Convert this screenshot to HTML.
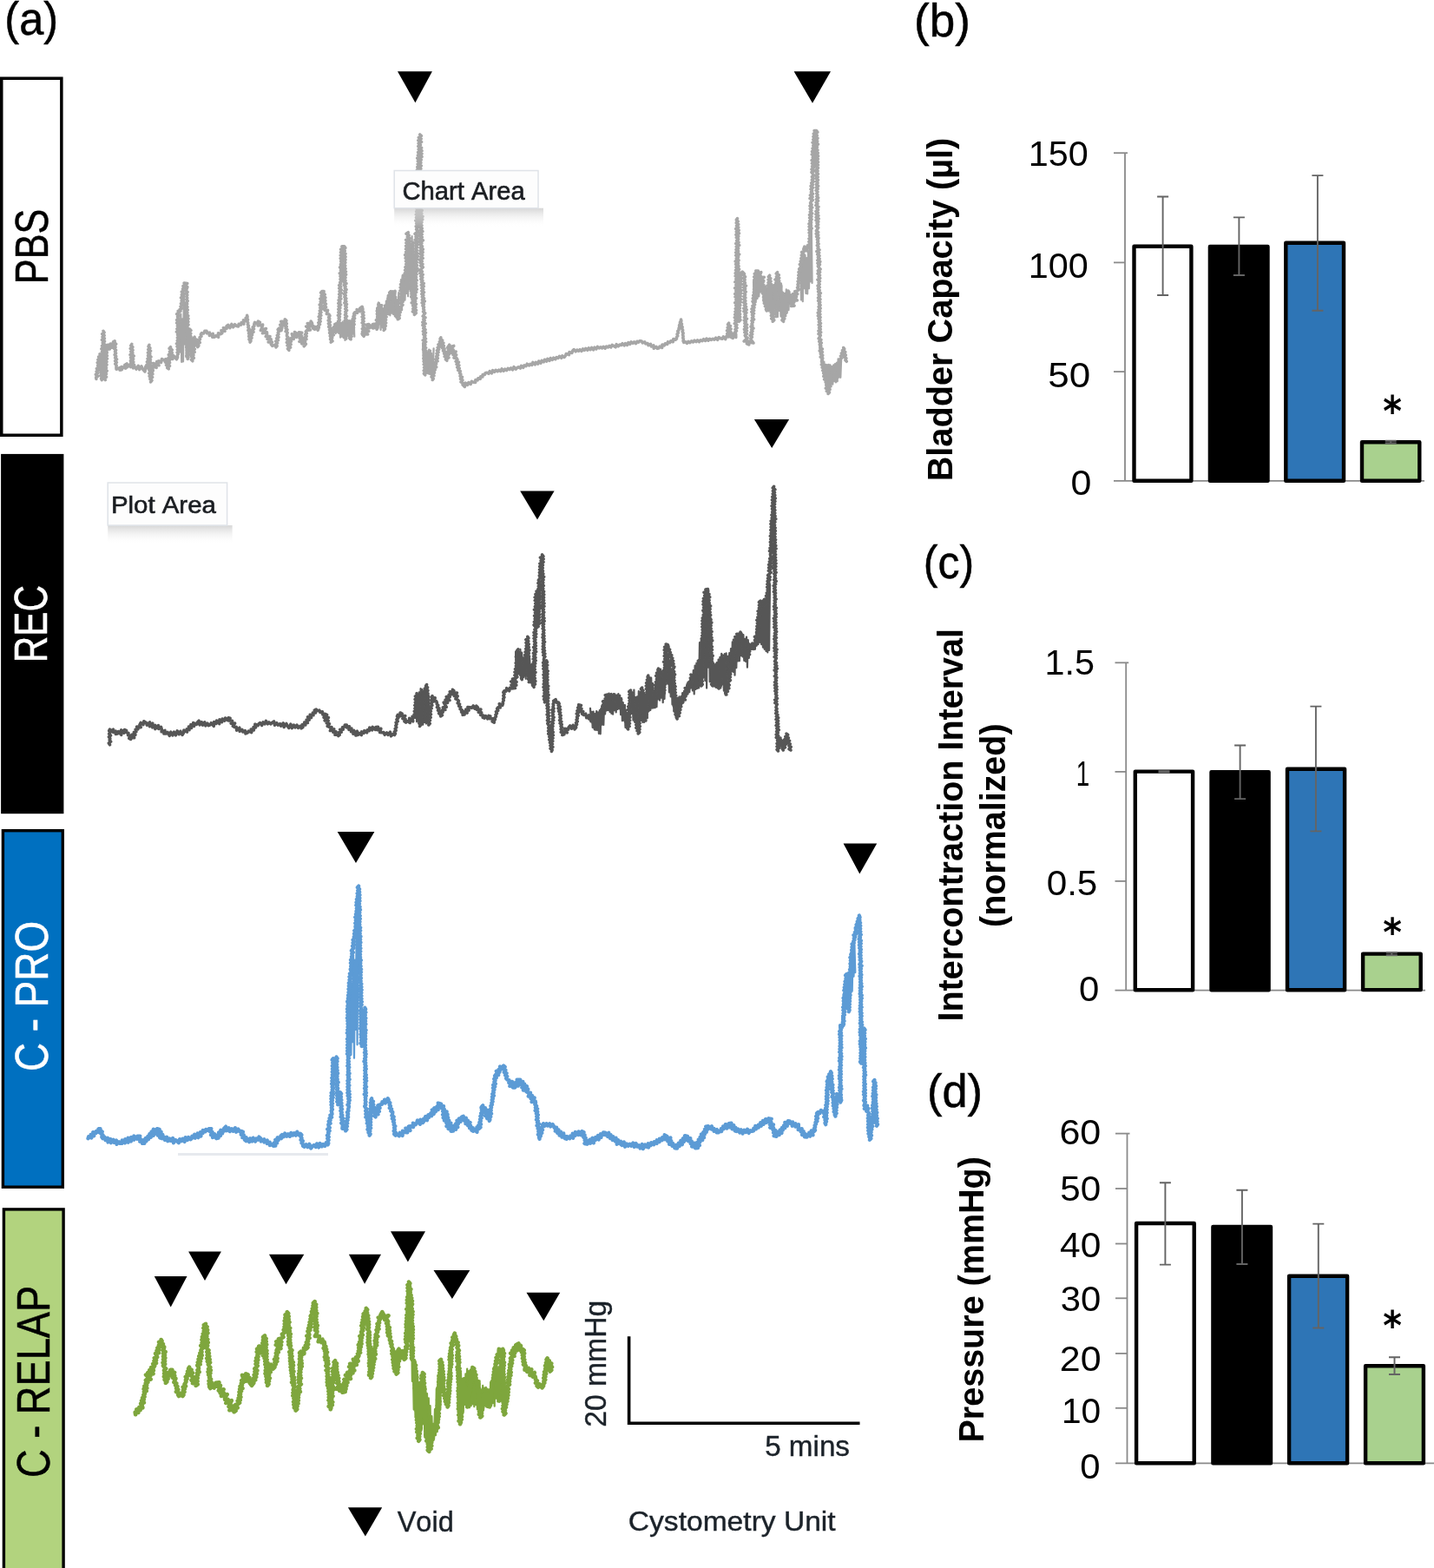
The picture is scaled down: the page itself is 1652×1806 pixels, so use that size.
<!DOCTYPE html><html><head><meta charset="utf-8"><title>Figure</title><style>html,body{margin:0;padding:0;background:#fff}svg{display:block}text{font-family:"Liberation Sans", Arial, sans-serif;font-kerning:none}</style></head><body>
<svg width="1652" height="1806" viewBox="0 0 1652 1806">
<rect x="0" y="0" width="1652" height="1806" fill="#fff"/>
<defs><linearGradient id="shd" x1="0" y1="0" x2="0" y2="1"><stop offset="0" stop-color="#c8c8c8" stop-opacity="0.75"/><stop offset="1" stop-color="#ffffff" stop-opacity="0"/></linearGradient><filter id="bl" x="-5%" y="-5%" width="110%" height="110%"><feGaussianBlur stdDeviation="0.6"/></filter></defs>
<text transform="translate(5.37,40.00) scale(0.9412,1)" font-size="53.6" font-weight="normal" fill="#000" stroke="#000" stroke-width="0.5">(a)</text>
<text transform="translate(1053.01,42.40) scale(0.9888,1)" font-size="53.6" font-weight="normal" fill="#000" stroke="#000" stroke-width="0.5">(b)</text>
<text transform="translate(1063.80,666.30) scale(0.9328,1)" font-size="53.6" font-weight="normal" fill="#000" stroke="#000" stroke-width="0.5">(c)</text>
<text transform="translate(1067.95,1274.50) scale(0.9769,1)" font-size="53.6" font-weight="normal" fill="#000" stroke="#000" stroke-width="0.5">(d)</text>
<rect x="1.75" y="90.25" width="69.1" height="411" fill="#fff" stroke="#000" stroke-width="3.5"/>
<rect x="1.1" y="522.9" width="72.3" height="414.3" fill="#000"/>
<rect x="3.4" y="956.7" width="68.9" height="410.5" fill="#0070C0" stroke="#000" stroke-width="3.4"/>
<rect x="4.4" y="1392.9" width="68.7" height="420" fill="#B2D37E" stroke="#000" stroke-width="3.4"/>
<text transform="translate(55.40,327.15) rotate(-90) scale(0.8159,1)" font-size="53.0" font-weight="normal" fill="#000" stroke="#000" stroke-width="0.5">PBS</text>
<text transform="translate(54.00,763.27) rotate(-90) scale(0.7904,1)" font-size="53.5" font-weight="normal" fill="#fff" stroke="#fff" stroke-width="0.5">REC</text>
<text transform="translate(54.80,1234.03) rotate(-90) scale(0.8565,1)" font-size="53.5" font-weight="normal" fill="#fff" stroke="#fff" stroke-width="0.5">C - PRO</text>
<text transform="translate(56.50,1702.10) rotate(-90) scale(0.8462,1)" font-size="53.5" font-weight="normal" fill="#000" stroke="#000" stroke-width="0.5">C - RELAP</text>
<polyline points="944.0,393.5 944.9,408.1 945.8,403.6 946.7,418.0 947.6,410.1 948.5,429.8 949.4,416.5 950.3,437.4 951.2,419.9 952.1,439.4 953.0,420.2 953.9,441.6 954.8,419.8 955.7,449.5 956.6,420.3 957.5,442.9 958.4,422.2 959.3,442.7 960.2,420.3 961.1,439.2 962.0,419.1 962.9,440.4 963.8,417.9 964.7,439.3 965.6,413.4 966.5,434.6 967.4,414.0 968.3,434.8 969.2,412.3" fill="none" stroke="#a6a6a6" stroke-width="2.2" stroke-linejoin="round" stroke-linecap="round" filter="url(#bl)"/>
<polyline points="487.0,395.6 487.9,415.4 488.8,398.1 489.7,424.9 490.6,403.7 491.5,429.8 492.4,405.6 493.3,430.4 494.2,402.6 495.1,431.0 496.0,408.8 496.9,430.3 497.8,409.6 498.7,426.9 499.6,401.4" fill="none" stroke="#a6a6a6" stroke-width="2.2" stroke-linejoin="round" stroke-linecap="round" filter="url(#bl)"/>
<polyline points="204.7,371.8 205.6,408.0 206.5,368.5 207.4,405.6 208.3,361.5 209.2,416.9 210.1,367.4 211.0,416.4 211.9,338.3 212.8,396.6 213.7,348.5 214.6,411.6" fill="none" stroke="#a6a6a6" stroke-width="2.2" stroke-linejoin="round" stroke-linecap="round" filter="url(#bl)"/>
<polyline points="117.3,396.0 118.2,408.7 119.1,396.5 120.0,412.4 120.9,396.4 121.8,410.4 122.7,400.4" fill="none" stroke="#a6a6a6" stroke-width="2.2" stroke-linejoin="round" stroke-linecap="round" filter="url(#bl)"/>
<polyline points="385.8,374.2 386.7,384.2 387.6,373.8 388.5,382.6 389.4,371.6 390.3,384.0 391.2,371.6 392.1,388.6 393.0,371.9 393.9,387.6 394.8,370.7 395.7,389.1 396.6,371.5 397.5,392.0 398.4,371.5 399.3,390.6 400.2,369.7 401.1,386.9 402.0,370.8 402.9,390.8 403.8,369.3 404.7,386.9 405.6,367.0 406.5,384.1 407.4,361.4 408.3,387.7" fill="none" stroke="#a6a6a6" stroke-width="2.2" stroke-linejoin="round" stroke-linecap="round" filter="url(#bl)"/>
<polyline points="434.1,354.9 435.0,373.3 435.9,348.6 436.8,373.0 437.7,356.9 438.6,380.0 439.5,359.6 440.4,375.5 441.3,357.4 442.2,370.5 443.1,351.6 444.0,367.2 444.9,346.7 445.8,360.0 446.7,341.3 447.6,362.3 448.5,338.8 449.4,363.3 450.3,336.9 451.2,360.7 452.1,335.0 453.0,362.0 453.9,342.9 454.8,364.3 455.7,343.5 456.6,366.2 457.5,346.7 458.4,366.6 459.3,337.0" fill="none" stroke="#a6a6a6" stroke-width="2.2" stroke-linejoin="round" stroke-linecap="round" filter="url(#bl)"/>
<polyline points="462.0,322.0 462.9,357.1 463.8,327.8 464.7,348.0 465.6,320.8 466.5,345.7 467.4,316.9 468.3,337.9 469.2,299.5 470.1,341.3 471.0,279.0 471.9,333.1 472.8,284.9 473.7,342.8 474.6,272.1 475.5,349.8 476.4,278.5 477.3,339.4" fill="none" stroke="#a6a6a6" stroke-width="2.2" stroke-linejoin="round" stroke-linecap="round" filter="url(#bl)"/>
<polyline points="922.1,309.7 923.0,345.5 923.9,303.3 924.8,347.2 925.7,293.1 926.6,332.1 927.5,293.9 928.4,338.0 929.3,297.2 930.2,338.5 931.1,289.4 932.0,332.3 932.9,284.8 933.8,324.3 934.7,254.1 935.6,326.0" fill="none" stroke="#a6a6a6" stroke-width="2.2" stroke-linejoin="round" stroke-linecap="round" filter="url(#bl)"/>
<polyline points="868.0,324.0 868.9,352.2 869.8,321.7 870.7,348.1 871.6,318.4 872.5,344.0 873.4,319.0 874.3,341.5 875.2,318.2 876.1,336.5 877.0,317.9 877.9,338.5 878.8,326.5 879.7,347.6 880.6,328.2 881.5,350.0 882.4,330.1 883.3,353.9 884.2,331.9 885.1,358.5 886.0,327.4 886.9,358.4 887.8,332.2 888.7,355.5 889.6,328.4 890.5,362.3 891.4,328.2 892.3,355.1 893.2,326.0 894.1,365.3 895.0,320.6 895.9,365.1 896.8,324.5 897.7,357.9 898.6,328.4 899.5,364.4 900.4,328.4 901.3,366.6 902.2,336.9 903.1,358.2 904.0,337.9 904.9,364.2 905.8,333.3 906.7,360.3 907.6,335.6 908.5,357.2 909.4,336.4" fill="none" stroke="#a6a6a6" stroke-width="2.2" stroke-linejoin="round" stroke-linecap="round" filter="url(#bl)"/>
<polyline points="479.2,804.4 480.1,831.3 481.0,804.4 481.9,830.5 482.8,797.4 483.7,830.8 484.6,793.0 485.5,835.4 486.4,794.1 487.3,834.6 488.2,795.5 489.1,832.0 490.0,791.9 490.9,833.6 491.8,789.8 492.7,828.1 493.6,800.5 494.5,832.7" fill="none" stroke="#575757" stroke-width="2.2" stroke-linejoin="round" stroke-linecap="round" filter="url(#bl)"/>
<polyline points="594.0,750.8 594.9,776.8 595.8,752.1 596.7,776.7 597.6,754.7 598.5,776.5 599.4,747.9 600.3,781.7 601.2,751.6 602.1,780.6 603.0,757.4 603.9,778.1 604.8,754.2 605.7,781.8 606.6,739.9 607.5,777.6 608.4,752.4 609.3,785.2 610.2,758.2 611.1,786.4 612.0,766.0 612.9,789.7" fill="none" stroke="#575757" stroke-width="2.2" stroke-linejoin="round" stroke-linecap="round" filter="url(#bl)"/>
<polyline points="680.0,815.9 680.9,831.5 681.8,819.9 682.7,838.0 683.6,819.5 684.5,838.9 685.4,822.1 686.3,837.1 687.2,819.0 688.1,840.7 689.0,820.4 689.9,844.9 690.8,818.0 691.7,845.3 692.6,815.8 693.5,834.6 694.4,814.8 695.3,834.9 696.2,808.2 697.1,822.5 698.0,806.6 698.9,818.4 699.8,802.4 700.7,817.9 701.6,798.7 702.5,820.0 703.4,799.5 704.3,821.8 705.2,802.2 706.1,822.6 707.0,799.1 707.9,818.2 708.8,803.5 709.7,820.4 710.6,803.3 711.5,817.0 712.4,799.1 713.3,816.3 714.2,800.9 715.1,823.1 716.0,804.0 716.9,830.1 717.8,811.3 718.7,829.8 719.6,812.1 720.5,837.9 721.4,821.8 722.3,835.3 723.2,826.2 724.1,832.1 725.0,811.1 725.9,823.7 726.8,798.7 727.7,821.9 728.6,801.0 729.5,829.6 730.4,794.6 731.3,829.9 732.2,803.0 733.1,830.3 734.0,802.3 734.9,838.6 735.8,796.1 736.7,834.2 737.6,798.8 738.5,830.0 739.4,799.1 740.3,831.9 741.2,800.3 742.1,832.0 743.0,800.1 743.9,824.8 744.8,798.7 745.7,827.3 746.6,779.3 747.5,819.3 748.4,782.4 749.3,818.0 750.2,780.5 751.1,809.9 752.0,787.2 752.9,815.5 753.8,804.1 754.7,815.1 755.6,794.1 756.5,814.1 757.4,784.8 758.3,805.3 759.2,770.7 760.1,806.7 761.0,770.6 761.9,803.6 762.8,773.5 763.7,809.2 764.6,776.4 765.5,804.9 766.4,756.1 767.3,785.8 768.2,744.1 769.1,787.6 770.0,753.3 770.9,797.4 771.8,760.6 772.7,802.4 773.6,770.4 774.5,811.6 775.4,777.0 776.3,817.7 777.2,799.0 778.1,824.3 779.0,803.6 779.9,825.3 780.8,803.7 781.7,822.7 782.6,802.3 783.5,816.2 784.4,803.6 785.3,811.1 786.2,798.2 787.1,809.4 788.0,796.9 788.9,805.6 789.8,792.0 790.7,802.2 791.6,787.5 792.5,799.5 793.4,787.5 794.3,797.1 795.2,780.5 796.1,792.5 797.0,778.3 797.9,795.4 798.8,772.1 799.7,799.5 800.6,766.5 801.5,794.0 802.4,763.7 803.3,792.9 804.2,760.8 805.1,792.5 806.0,740.0 806.9,790.2 807.8,736.8 808.7,783.5 809.6,713.1 810.5,780.1 811.4,701.9 812.3,784.1 813.2,683.0 814.1,792.6 815.0,679.6 815.9,768.7 816.8,695.5 817.7,785.3 818.6,731.4 819.5,785.8 820.4,758.2 821.3,785.1 822.2,763.8 823.1,790.7 824.0,766.6 824.9,791.9 825.8,763.0 826.7,790.5 827.6,759.5 828.5,792.7 829.4,756.8 830.3,792.5 831.2,752.8 832.1,788.3 833.0,758.5 833.9,795.6 834.8,753.0 835.7,800.6 836.6,752.4 837.5,786.2 838.4,755.8 839.3,782.6 840.2,752.2 841.1,779.8 842.0,747.1 842.9,772.1 843.8,739.3 844.7,773.8 845.6,739.3 846.5,777.7 847.4,733.2 848.3,769.1 849.2,730.3 850.1,761.5 851.0,731.7 851.9,761.3 852.8,729.7 853.7,755.1 854.6,730.1 855.5,756.5 856.4,731.2 857.3,761.0 858.2,735.8 859.1,762.0 860.0,733.6 860.9,768.6 861.8,737.2 862.7,757.9 863.6,741.4 864.5,748.0 865.4,742.4 866.3,747.9 867.2,741.6 868.1,748.2 869.0,741.0 869.9,747.8 870.8,732.7 871.7,743.7 872.6,722.5 873.5,742.2 874.4,710.7 875.3,739.8 876.2,697.8 877.1,742.2 878.0,695.9 878.9,745.6 879.8,690.2 880.7,747.8 881.6,694.4 882.5,749.9 883.4,692.2 884.3,751.5 885.2,677.8 886.1,749.0 887.0,672.8" fill="none" stroke="#575757" stroke-width="2.2" stroke-linejoin="round" stroke-linecap="round" filter="url(#bl)"/>
<polyline points="399.9,1162.6 400.8,1252.3 401.7,1151.7 402.6,1210.3 403.5,1131.6 404.4,1215.1 405.3,1132.8 406.2,1200.2 407.1,1101.8 408.0,1218.7 408.9,1105.7 409.8,1185.9 410.7,1063.3 411.6,1203.3 412.5,1063.8" fill="none" stroke="#5b9bd5" stroke-width="2.2" stroke-linejoin="round" stroke-linecap="round" filter="url(#bl)"/>
<polyline points="970.0,1169.8 970.9,1184.0 971.8,1147.0 972.7,1175.4 973.6,1138.9 974.5,1160.1 975.4,1131.1 976.3,1160.5 977.2,1119.9 978.1,1158.4 979.0,1109.7 979.9,1147.9 980.8,1095.5 981.7,1141.7 982.6,1095.4 983.5,1124.7 984.4,1088.0 985.3,1120.1" fill="none" stroke="#5b9bd5" stroke-width="2.2" stroke-linejoin="round" stroke-linecap="round" filter="url(#bl)"/>
<polyline points="474.0,1521.7 474.9,1591.0 475.8,1570.8 476.7,1623.6 477.6,1582.8 478.5,1630.2 479.4,1586.5 480.3,1643.4 481.2,1584.9 482.1,1652.6 483.0,1592.0 483.9,1641.4 484.8,1591.6 485.7,1647.0 486.6,1586.7 487.5,1639.3 488.4,1589.0 489.3,1655.5 490.2,1596.5 491.1,1653.1 492.0,1605.2 492.9,1660.6 493.8,1610.3 494.7,1665.1 495.6,1619.2 496.5,1665.6 497.4,1631.2 498.3,1660.4 499.2,1639.8 500.1,1657.2 501.0,1623.0 501.9,1653.2 502.8,1599.7 503.7,1649.2 504.6,1583.9 505.5,1639.3 506.4,1580.4 507.3,1623.7 508.2,1571.4" fill="none" stroke="#7ea63c" stroke-width="2.2" stroke-linejoin="round" stroke-linecap="round" filter="url(#bl)"/>
<polyline points="529.2,1568.3 530.1,1635.0 531.0,1581.5 531.9,1631.1 532.8,1588.2 533.7,1627.1 534.6,1587.0 535.5,1617.5 536.4,1582.3 537.3,1612.0 538.2,1576.5 539.1,1610.6 540.0,1579.1 540.9,1621.3 541.8,1577.6 542.7,1619.3 543.6,1575.1 544.5,1617.3 545.4,1585.3 546.3,1620.1 547.2,1587.5 548.1,1617.9 549.0,1587.9 549.9,1623.5 550.8,1595.6 551.7,1621.4 552.6,1590.3 553.5,1631.1 554.4,1600.7 555.3,1623.3 556.2,1595.8 557.1,1623.6 558.0,1598.5 558.9,1619.0 559.8,1597.8 560.7,1618.7 561.6,1599.6 562.5,1615.3 563.4,1600.6 564.3,1615.1 565.2,1591.5 566.1,1619.2 567.0,1592.6 567.9,1615.8 568.8,1580.8 569.7,1619.7 570.6,1582.0 571.5,1610.6 572.4,1576.1 573.3,1614.4 574.2,1574.3 575.1,1614.9 576.0,1566.0 576.9,1614.2 577.8,1566.2 578.7,1612.5" fill="none" stroke="#7ea63c" stroke-width="2.2" stroke-linejoin="round" stroke-linecap="round" filter="url(#bl)"/>
<polyline points="110.9,436.5 110.6,434.7 112.8,433.3 110.3,431.3 112.6,429.8 111.1,427.9 113.3,426.5 111.4,424.5 114.1,423.2 112.6,421.2 113.7,419.7 112.2,417.7 114.7,416.4 112.8,414.4 114.7,412.9 113.6,411.0 116.0,409.7 115.0,407.8 115.8,409.5 113.8,411.4 116.9,413.0 115.1,414.9 116.1,416.6 114.8,418.4 117.4,420.0 115.2,421.9 116.9,423.6 115.5,425.5 116.9,427.1 116.0,429.0 117.7,430.6 115.9,432.5 117.7,434.1 116.5,436.0 117.3,437.7 116.7,436.0 118.3,434.3 116.7,432.6 117.9,430.9 116.2,429.1 118.7,427.5 116.5,425.7 118.3,424.0 116.2,422.3 119.2,420.7 117.3,418.9 118.7,417.2 116.7,415.4 119.3,413.8 116.6,412.0 119.0,410.4 116.8,408.6 119.4,407.0 117.5,405.2 119.4,403.6 116.9,401.8 119.8,400.1 117.5,398.4 119.6,396.7 118.2,395.0 119.3,393.3 117.4,391.5 119.6,389.9 118.2,388.1 119.9,386.5 117.7,384.7 120.1,383.0 119.0,381.3 119.9,383.0 118.2,384.8 120.2,386.4 118.0,388.2 120.4,389.8 118.6,391.6 120.5,393.2 119.1,395.0 120.1,396.7 118.5,398.4 121.3,400.0 118.7,401.9 120.8,403.5 119.4,405.3 121.0,406.9 118.6,408.7 121.5,410.3 119.2,412.1 121.7,413.7 119.7,415.5 121.5,417.2 119.0,419.0 121.7,420.6 119.7,422.4 121.5,424.0 119.8,425.8 122.4,427.4 120.6,429.2 122.3,430.8 119.7,432.6 122.6,434.2 120.0,436.0 121.3,437.7 120.0,435.9 122.5,434.2 120.5,432.4 122.5,430.7 121.2,428.9 123.2,427.2 120.8,425.4 122.5,423.7 121.0,421.9 123.0,420.2 121.3,418.4 123.0,416.7 121.2,414.9 123.5,413.2 121.3,411.4 123.4,409.7 122.1,407.9 123.3,406.2 122.1,404.4 123.9,402.7 121.4,400.8 124.3,399.2 123.0,397.4 126.5,397.1 122.9,402.3 126.5,402.0 126.1,399.7 131.0,400.6 127.1,396.0 131.2,396.4 130.5,393.8 132.2,392.8 131.9,394.6 133.7,396.2 131.8,398.1 133.1,399.8 131.6,401.7 133.6,403.3 132.4,405.1 133.6,406.8 132.1,408.7 133.8,410.4 132.6,412.2 134.6,413.8 132.6,415.7 134.4,417.4 132.7,419.2 134.2,420.9 133.9,422.7 134.0,425.3 137.9,423.5 138.0,426.2 140.4,425.7 140.0,422.5 144.6,424.1 143.7,420.4 146.1,418.9 146.7,422.9 149.7,419.8 150.6,422.7 152.0,421.0 150.3,419.2 151.3,417.4 150.4,415.6 152.2,414.0 150.5,412.1 152.4,410.4 150.0,408.6 152.4,406.9 150.7,405.1 153.0,403.4 150.2,401.5 152.6,399.9 151.1,398.0 151.8,396.3 150.7,398.1 152.9,399.7 151.0,401.5 153.0,403.2 151.2,405.0 152.9,406.6 151.8,408.4 154.2,410.0 151.3,411.9 153.6,413.5 151.6,415.4 153.8,417.0 151.7,418.8 154.6,420.4 152.5,422.2 153.5,423.9 155.5,422.6 157.0,425.2 159.3,421.3 160.7,425.6 162.9,421.8 164.4,425.0 167.0,428.0 167.8,421.9 170.2,423.9 170.9,422.2 169.0,420.3 172.1,418.7 169.4,416.8 171.8,415.1 170.0,413.2 171.8,411.6 170.5,409.7 172.4,408.1 170.4,406.2 172.1,404.5 171.0,402.7 172.9,401.0 171.0,399.1 171.9,397.4 171.0,399.1 172.8,400.8 170.7,402.6 173.6,404.2 171.8,405.9 172.9,407.6 171.6,409.4 174.0,411.0 171.2,412.8 173.4,414.4 172.0,416.2 173.9,417.8 171.4,419.6 174.3,421.2 172.1,423.0 174.4,424.6 171.9,426.4 174.1,428.0 171.6,429.8 173.9,431.5 172.1,433.2 173.9,434.9 172.9,436.6 175.0,438.2 173.6,440.0 174.5,438.2 172.9,436.1 175.6,434.5 173.4,432.3 175.9,430.8 174.5,428.6 176.3,427.0 175.9,425.0 174.5,421.6 180.2,423.4 176.6,418.4 183.1,420.8 180.7,416.6 182.8,415.8 185.5,417.5 186.5,413.5 189.1,415.0 190.9,413.5 191.8,415.0 190.5,417.2 193.6,418.1 191.5,420.5 194.1,421.5 192.7,423.7 194.3,425.0 193.2,423.1 195.5,421.5 193.7,419.5 195.6,417.8 194.6,415.9 196.0,414.2 194.0,412.2 196.7,410.6 194.3,408.6 196.9,407.0 195.4,405.1 197.6,403.4 195.1,401.4 196.6,399.7 196.5,401.5 198.3,403.0 197.0,405.0 198.3,406.5 196.6,408.6 198.8,410.0 197.9,411.9 198.9,413.5 199.6,409.5 203.5,413.8 204.7,411.2 204.2,409.5 205.3,407.8 204.1,406.1 206.0,404.4 204.3,402.7 206.3,401.0 204.0,399.2 206.4,397.6 203.4,395.8 205.6,394.1 204.2,392.4 205.9,390.7 204.4,389.0 206.1,387.3 204.5,385.6 205.4,383.9 203.4,382.2 205.7,380.5 203.9,378.8 205.9,377.1 204.3,375.4 205.5,373.7 203.6,371.9 206.6,370.3 203.6,368.5 205.6,366.8 204.5,365.1 206.3,363.4 203.6,361.7 206.2,360.0 205.2,358.3 208.1,358.3 207.1,356.5 209.7,355.1 208.0,353.1 210.0,351.6 208.4,349.7 210.0,348.2 209.1,346.4 210.5,344.8 208.5,342.9 211.1,341.5 209.3,339.5 211.8,338.1 209.3,336.1 211.9,334.7 210.5,332.8 212.2,331.3 210.9,329.4 213.3,328.0 212.1,326.1 215.8,326.6 212.0,330.2 215.9,330.6 215.0,333.0 214.0,334.7 216.1,336.4 214.0,338.2 215.8,339.8 214.7,341.6 215.8,343.3 214.7,345.0 216.2,346.7 214.8,348.4 215.7,350.1 214.1,351.9 216.0,353.5 214.0,355.3 216.3,357.0 214.0,358.7 216.0,360.4 214.4,362.1 216.8,363.8 215.0,365.5 217.0,367.2 214.9,369.0 216.9,370.7 214.0,372.4 217.0,374.1 214.9,375.8 216.2,377.5 214.7,379.3 217.2,380.9 215.0,382.7 217.2,384.4 215.2,386.1 217.3,387.8 215.4,389.5 216.6,391.2 214.4,393.0 217.3,394.6 214.5,396.4 217.4,398.1 214.7,399.8 217.2,401.5 215.4,403.2 217.0,404.9 215.5,406.7 217.4,408.3 215.0,410.1 216.9,411.8 216.2,413.5 216.8,411.8 214.9,409.9 217.9,408.4 215.6,406.5 217.8,404.9 215.5,403.1 217.9,401.5 216.3,399.6 218.0,398.0 216.7,396.2 217.9,394.6 216.4,392.7 218.6,391.1 216.7,389.3 218.4,387.7 217.2,385.8 218.7,384.2 217.7,382.4 219.1,380.8 218.5,379.0 220.0,380.6 218.0,382.6 219.8,384.2 218.0,386.1 220.0,387.7 219.1,389.6 220.6,391.2 218.8,393.1 221.1,394.7 219.2,396.6 221.5,398.2 219.2,400.1 221.3,401.7 219.8,403.6 221.9,405.2 220.4,407.1 222.1,408.7 220.4,410.6 223.0,412.2 220.3,414.2 221.9,415.8 221.3,414.0 223.3,412.4 221.9,410.6 223.0,408.9 221.6,407.1 224.2,405.6 222.3,403.7 224.3,402.1 221.8,400.2 224.1,398.6 222.3,396.7 225.0,395.2 222.9,393.3 225.1,391.8 222.8,389.8 224.2,388.2 223.7,390.2 226.5,391.1 224.3,393.6 227.7,394.3 225.7,396.7 227.8,397.9 227.7,399.7 228.9,398.1 228.1,395.9 230.3,394.6 228.5,392.2 230.5,390.8 230.0,388.8 232.0,387.4 231.3,385.2 232.3,383.6 234.7,384.1 235.8,381.3 238.0,381.3 238.5,383.9 241.4,383.1 241.3,386.5 245.3,384.4 244.7,388.3 247.2,388.2 248.5,386.5 251.6,388.3 251.4,383.7 254.1,384.8 255.9,383.7 254.9,380.6 259.1,381.4 257.4,377.7 261.2,378.2 261.0,375.6 262.9,374.3 264.8,377.7 266.8,373.4 268.7,376.8 270.6,373.7 272.5,375.6 274.6,375.9 275.1,373.2 277.5,374.1 278.1,371.6 280.9,373.2 280.4,368.8 282.9,369.8 283.7,368.2 283.1,366.3 284.7,365.0 284.6,363.2 285.1,364.9 284.5,366.7 285.6,368.3 284.6,370.2 285.8,371.8 285.3,373.6 286.5,375.2 285.8,377.0 287.0,378.6 285.8,380.5 287.5,382.0 286.5,383.9 287.5,385.5 286.6,387.4 287.9,389.0 286.9,390.8 288.2,392.4 288.0,394.2 289.1,392.6 288.0,390.6 290.0,389.2 288.6,387.1 290.6,385.7 289.4,383.6 292.1,382.4 289.9,380.1 292.6,378.9 291.1,376.8 293.0,375.4 292.7,373.5 293.5,371.4 297.5,373.6 297.3,370.1 299.4,371.2 297.2,375.1 302.7,374.0 301.9,377.0 300.3,380.6 306.5,378.5 302.5,383.8 307.5,382.7 307.6,385.0 306.2,387.5 311.1,387.4 308.0,390.6 312.3,390.8 309.2,393.9 313.6,394.0 312.2,396.5 313.7,398.4 317.1,397.1 318.0,400.0 319.2,398.5 317.8,396.5 319.6,395.1 317.7,393.1 320.5,391.8 318.6,389.7 321.0,388.4 319.3,386.4 321.0,384.9 320.2,383.1 321.6,381.6 320.1,379.6 321.4,378.1 324.1,380.6 324.9,377.0 322.7,374.1 328.3,374.1 323.7,370.3 329.6,370.4 328.3,367.8 329.9,369.3 327.9,371.4 330.3,372.8 327.7,374.9 330.2,376.3 329.1,378.2 331.0,379.7 329.1,381.7 331.2,383.2 330.6,385.0 330.4,386.9 331.9,388.6 330.4,390.6 332.4,392.3 330.3,394.4 333.1,395.9 331.0,398.0 333.9,399.5 331.4,401.7 332.9,403.4 332.2,401.5 334.7,400.2 332.6,398.0 335.2,396.7 333.2,394.6 335.5,393.2 333.8,391.1 335.2,389.6 338.3,390.5 336.3,384.6 341.6,388.5 339.5,382.5 344.6,386.2 344.4,382.7 347.8,383.3 343.2,386.8 347.8,386.9 345.2,389.7 349.9,389.8 344.9,393.4 350.6,393.2 347.8,396.0 352.5,396.2 350.2,398.8 351.5,397.3 349.9,395.3 351.6,393.9 350.5,391.9 353.0,390.7 351.2,388.6 353.2,387.2 351.5,385.2 353.4,383.8 352.3,381.9 353.6,380.4 357.4,380.1 352.7,375.9 357.7,376.0 354.2,372.4 359.7,372.8 358.2,370.1 359.4,371.9 358.7,374.3 361.3,375.7 360.5,378.1 362.5,379.4 363.8,376.5 366.2,380.3 367.4,377.0 366.5,375.2 368.5,373.6 366.8,371.7 369.2,370.2 367.5,368.3 369.4,366.7 367.2,364.8 369.9,363.3 368.0,361.4 370.0,359.8 368.3,358.0 370.2,356.4 368.7,354.5 370.8,353.0 368.2,351.0 370.5,349.5 369.2,347.6 371.6,346.1 368.9,344.1 371.7,342.6 370.0,340.7 372.1,339.2 369.6,337.2 370.9,335.6 373.2,335.6 372.5,337.5 374.3,339.2 372.2,341.1 374.9,342.8 373.0,344.7 374.9,346.4 373.3,348.3 375.5,350.1 373.1,352.0 375.6,353.7 373.0,355.6 374.3,357.4 377.6,357.2 376.3,361.6 378.9,362.0 380.0,363.7 378.6,365.6 379.8,367.3 378.2,369.2 380.4,370.9 378.4,372.8 380.5,374.5 378.7,376.4 381.3,378.0 379.4,379.9 380.8,381.6 379.6,383.5 381.5,385.2 380.2,387.1 381.4,388.8 380.5,390.7 382.2,392.3 381.2,394.2 383.0,392.8 381.3,390.6 382.8,389.1 381.5,387.0 384.4,385.9 382.0,383.5 385.0,382.4 383.5,380.2 386.0,379.0 384.5,376.8 386.6,375.5 385.8,373.5 388.1,372.4 390.4,373.5 391.3,371.8 389.6,370.0 391.4,368.4 390.1,366.6 391.4,364.9 389.4,363.1 391.8,361.5 389.9,359.7 391.6,358.0 389.8,356.2 391.9,354.6 390.1,352.8 392.7,351.1 389.8,349.3 391.9,347.6 390.1,345.8 392.9,344.2 390.8,342.4 392.5,340.8 390.7,339.0 393.3,337.3 391.0,335.5 393.4,333.9 390.7,332.0 392.7,330.4 390.7,328.6 392.6,326.9 391.7,325.2 393.5,323.5 392.0,321.7 393.3,320.1 392.0,318.3 393.6,316.6 391.3,314.8 394.2,313.2 392.4,311.4 393.4,309.7 391.6,307.9 393.5,306.2 392.4,304.5 393.7,302.8 392.7,301.0 393.7,299.3 392.2,297.6 394.7,295.9 392.3,294.1 395.0,292.5 392.5,290.7 394.6,289.0 392.6,287.2 395.4,285.6 393.9,283.8 396.7,283.8 397.9,285.5 396.1,287.2 397.3,288.9 395.3,290.7 398.0,292.3 396.1,294.1 398.1,295.8 395.9,297.5 398.0,299.2 396.6,300.9 397.9,302.6 396.2,304.4 397.8,306.1 395.8,307.8 398.1,309.5 396.1,311.2 398.5,312.9 396.1,314.7 398.6,316.3 396.1,318.1 398.1,319.8 395.9,321.5 398.1,323.2 396.1,325.0 399.0,326.6 396.2,328.4 398.1,330.1 397.2,331.8 399.1,333.5 396.8,335.2 398.6,336.9 396.3,338.7 398.3,340.3 396.9,342.1 398.9,343.8 397.4,345.5 398.9,347.2 396.8,348.9 399.5,350.6 397.7,352.4 399.2,354.0 397.7,355.8 399.6,357.5 397.8,359.2 398.7,360.9 397.5,362.6 399.6,364.3 397.6,366.1 399.0,367.8 397.1,369.5 398.5,371.2 401.9,369.9 401.9,373.5 400.7,375.4 403.1,376.9 401.7,378.8 403.5,380.3 402.0,382.3 404.1,383.8 402.7,385.7 405.0,387.2 402.5,389.3 404.2,390.8 403.4,388.9 405.2,387.4 403.8,385.4 406.1,384.0 403.9,381.9 407.0,380.6 404.6,378.5 407.5,377.2 405.5,375.1 408.2,373.7 405.6,371.6 408.0,370.2 406.9,368.3 408.6,366.7 407.0,364.7 408.8,363.2 407.8,361.3 408.8,359.7 411.7,360.4 411.1,356.6 415.0,358.6 414.6,355.1 417.2,353.3 418.0,356.3 417.3,358.1 418.9,359.7 417.4,361.5 419.0,363.2 417.1,365.0 419.4,366.6 417.5,368.4 419.1,370.1 417.1,371.9 419.4,373.5 418.0,375.3 419.3,376.9 417.3,378.7 419.9,380.4 417.5,382.2 420.6,383.8 417.6,385.6 419.2,387.3 417.1,384.4 423.7,385.1 418.3,380.9 424.8,381.5 421.6,378.2 425.6,377.8 422.0,374.3 424.9,373.5 427.2,377.0 429.5,373.5 432.9,373.1 429.7,378.1 435.2,376.1 434.1,379.3 435.1,377.6 432.9,375.7 435.7,374.1 433.8,372.2 435.7,370.6 433.4,368.6 436.1,367.1 434.6,365.2 435.9,363.5 434.3,361.6 436.6,360.0 434.3,358.1 436.5,356.5 435.1,354.6 437.4,353.0 435.8,351.1 436.4,349.4 436.1,351.5 439.9,351.7 437.1,354.8 440.3,355.3 439.9,357.4 439.4,359.2 441.4,360.8 439.4,362.8 441.1,364.4 440.3,366.3 442.4,367.9 440.0,369.9 441.9,371.5 440.1,373.5 442.1,375.1 441.0,376.9 443.4,378.5 442.2,380.4 443.6,378.8 441.9,376.9 444.3,375.4 442.0,373.4 444.7,371.9 442.0,369.9 444.6,368.4 442.7,366.5 445.1,365.0 442.8,363.0 445.9,361.6 443.5,359.5 446.3,358.1 443.6,356.1 446.1,354.6 445.6,352.8 445.4,350.9 447.8,349.7 445.7,347.3 448.4,346.2 447.0,343.9 449.2,342.7 447.4,340.4 450.6,339.4 448.7,337.0 450.2,335.6 451.2,337.5 455.1,335.4 454.8,339.0 454.1,340.8 455.8,342.3 454.7,344.2 456.8,345.6 455.4,347.5 456.6,349.1 455.5,350.9 457.9,352.4 455.4,354.4 458.4,355.8 456.0,357.8 458.3,359.2 456.4,361.1 458.7,362.6 456.9,364.5 459.4,365.9 458.3,367.8 460.2,366.5 458.2,364.3 460.5,363.1 459.1,361.0 461.2,359.7 459.2,357.5 462.5,356.5 459.9,354.1 461.7,352.8 464.0,351.2 461.1,349.2 463.7,347.5 460.0,345.5 464.1,344.0 461.0,342.0 463.8,340.4 461.5,338.4 465.0,336.9 460.9,334.8 464.8,333.2 461.2,331.2 465.5,329.7 461.5,327.6 464.8,326.1 462.4,324.1 465.8,322.5 464.0,320.6 464.3,317.2 467.5,318.3 469.4,316.7 466.3,314.7 468.9,313.1 466.6,311.2 468.7,309.6 466.9,307.8 469.4,306.2 467.7,304.3 469.2,302.6 467.5,300.8 470.6,299.2 467.1,297.3 469.8,295.7 466.6,293.7 469.9,292.2 467.6,290.3 470.9,288.7 467.5,286.8 470.6,285.2 467.6,283.3 470.9,281.7 467.9,279.8 471.1,278.2 467.6,276.3 471.7,274.8 469.3,272.9 470.9,271.2 468.0,269.3 470.3,267.7 469.5,269.5 471.2,271.1 469.7,272.9 472.2,274.5 468.8,276.5 472.3,277.9 469.4,279.9 473.3,281.3 470.7,283.2 473.2,284.8 469.5,286.8 473.3,288.3 470.5,290.2 473.2,291.7 470.1,293.7 474.5,295.1 471.7,297.0 474.1,298.6 471.5,300.5 474.5,302.0 472.2,303.9 474.1,305.5 472.2,307.4 474.7,308.9 471.6,310.9 475.6,312.3 471.9,314.3 475.6,315.8 473.3,317.7 475.3,319.3 472.6,321.2 475.4,322.7 473.1,324.6 476.7,326.1 474.0,328.0 476.9,329.5 474.3,331.5 476.3,333.0 473.2,335.0 476.3,336.5 474.1,338.4 476.9,339.9 473.7,341.9 478.1,343.3 475.0,345.3 477.5,346.8 474.2,348.8 477.9,350.2 475.6,352.1 478.5,353.7 475.7,355.6 478.3,357.1 476.5,359.0 479.4,360.5 477.3,362.4 479.0,360.7 475.3,358.9 479.6,357.3 476.5,355.5 479.0,353.8 476.3,352.0 479.5,350.4 475.7,348.6 478.7,346.9 476.8,345.2 479.6,343.5 476.7,341.7 478.7,340.0 477.1,338.3 479.6,336.6 476.5,334.8 480.3,333.2 476.8,331.4 479.9,329.7 477.5,327.9 479.6,326.3 477.4,324.5 480.2,322.8 477.5,321.0 479.5,319.4 477.4,317.6 480.0,316.0 477.6,314.2 480.4,312.5 478.0,310.7 480.9,309.1 477.2,307.3 480.4,305.6 478.4,303.8 480.2,302.2 477.4,300.4 480.8,298.7 477.3,296.9 481.4,295.3 478.2,293.5 480.8,291.8 478.3,290.1 480.3,288.4 478.7,286.6 480.6,284.9 478.9,283.2 481.2,281.5 478.0,279.7 481.3,278.1 478.1,276.3 480.8,274.6 479.0,272.8 481.5,271.2 478.0,269.4 480.1,267.7 481.4,266.0 479.6,264.3 480.9,262.6 479.2,260.8 482.0,259.2 479.7,257.4 481.4,255.8 478.8,254.0 482.8,252.4 479.5,250.6 482.3,249.0 479.3,247.1 481.4,245.5 479.7,243.7 481.7,242.1 480.0,240.3 482.9,238.7 479.4,236.9 481.8,235.2 480.5,233.5 483.0,231.9 480.6,230.1 482.5,228.4 480.4,226.6 482.1,225.0 480.9,223.2 482.4,221.6 480.4,219.8 483.8,218.2 480.1,216.4 482.8,214.7 480.1,213.0 482.9,211.3 480.5,209.5 483.1,207.9 479.9,206.1 483.3,204.5 480.3,202.7 483.9,201.1 480.3,199.3 483.9,197.7 480.4,195.9 483.7,194.2 480.8,192.4 484.2,190.8 481.2,189.0 484.2,187.4 481.3,185.6 484.0,184.0 480.7,182.2 484.5,180.6 481.4,178.8 483.6,177.1 481.6,175.4 484.0,173.7 482.2,172.0 484.5,170.3 481.8,168.5 484.3,166.9 482.4,165.1 484.9,163.5 482.1,161.7 484.8,160.1 482.9,158.3 484.8,156.6 483.7,154.9 485.4,156.6 482.3,158.4 485.2,160.0 481.8,161.8 485.6,163.5 482.1,165.2 484.5,166.9 482.8,168.7 485.6,170.3 483.1,172.1 486.0,173.8 483.2,175.5 486.0,177.2 483.1,179.0 486.0,180.6 482.0,182.4 485.2,184.1 482.0,185.8 484.9,187.5 482.1,189.3 485.3,191.0 482.9,192.7 484.9,194.4 482.6,196.1 485.2,197.8 482.6,199.6 486.2,201.3 482.7,203.0 484.9,204.7 482.2,206.5 486.5,208.1 482.7,209.9 485.6,211.6 482.9,213.3 486.5,215.0 483.1,216.8 486.4,218.4 482.9,220.2 485.8,221.9 482.4,223.6 485.8,225.3 483.0,227.1 485.3,228.8 483.3,230.5 485.3,232.2 482.9,233.9 485.3,235.6 484.1,237.4 485.5,239.1 484.0,240.8 486.2,242.5 483.6,244.2 485.8,245.9 482.6,247.7 487.0,249.4 483.2,251.1 486.8,252.8 483.0,254.6 485.9,256.2 483.0,258.0 486.0,259.7 483.5,261.4 486.2,263.1 484.2,264.8 486.9,266.5 483.0,268.3 486.2,270.0 483.1,271.7 486.3,273.4 483.5,275.2 487.4,276.8 483.4,278.6 485.9,280.3 484.0,282.0 486.5,283.7 484.2,285.5 487.3,287.1 484.0,288.9 487.1,290.6 483.8,292.3 486.8,294.0 484.8,295.8 487.2,297.5 483.4,299.2 486.3,300.9 483.9,302.6 486.9,304.3 484.4,306.1 487.3,307.8 485.6,309.5 483.5,311.3 486.4,312.9 483.8,314.7 487.2,316.3 484.5,318.1 486.8,319.7 484.8,321.5 486.9,323.1 485.5,324.9 488.3,326.5 485.3,328.3 488.2,329.9 485.7,331.7 487.9,333.3 485.8,335.2 488.5,336.7 485.7,338.6 487.9,340.2 486.3,342.0 488.6,343.6 486.3,345.4 489.3,347.0 486.1,348.8 488.4,350.4 486.9,352.2 488.5,353.8 487.6,355.6 488.7,357.3 487.5,359.0 489.8,360.6 488.4,362.4 487.1,364.2 490.0,365.8 487.7,367.6 489.2,369.3 486.8,371.1 490.2,372.8 486.9,374.6 489.2,376.3 487.7,378.1 490.1,379.8 487.3,381.6 490.5,383.2 487.7,385.0 489.9,386.7 488.5,388.5 490.5,390.2 487.2,392.0 490.7,393.7 487.7,395.5 490.0,397.2 488.4,399.0 490.7,400.6 487.5,402.5 491.0,404.1 488.6,405.9 490.5,407.6 488.2,409.4 490.4,411.1 487.9,412.9 491.2,414.6 488.1,416.4 490.9,418.1 488.2,419.8 490.9,421.5 488.5,423.3 490.4,425.0 488.2,426.8 490.3,428.5 488.4,430.3 489.8,432.0 489.2,430.1 491.7,428.7 489.6,426.5 492.3,425.2 489.8,422.9 492.7,421.7 491.8,419.7 494.3,418.4 492.1,416.1 494.1,414.7 492.7,412.6 495.2,411.3 492.6,409.0 496.1,407.9 494.2,405.7 495.4,404.1 494.4,406.0 496.7,407.5 494.7,409.5 497.0,411.1 495.5,413.0 497.3,414.6 495.5,416.5 497.3,418.1 495.2,420.1 497.8,421.7 496.4,423.5 498.4,425.2 495.7,427.2 499.0,428.7 496.3,430.7 499.2,432.2 497.0,434.1 498.7,435.8 498.2,437.6 499.3,436.1 498.0,434.1 500.0,432.7 498.5,430.7 500.5,429.3 499.6,427.4 501.3,426.0 500.2,424.0 502.7,422.8 500.4,420.5 502.6,419.2 501.2,417.2 504.1,416.0 501.7,413.8 504.4,412.6 502.6,410.5 504.6,409.1 503.0,407.1 505.1,405.7 503.4,403.7 505.7,402.4 504.1,400.3 506.8,399.1 504.9,396.9 507.8,395.8 506.3,393.7 508.4,392.4 507.0,390.4 507.9,388.8 507.6,390.7 509.7,391.9 508.4,394.0 510.9,395.1 508.4,397.5 511.4,398.5 509.4,400.8 512.1,401.9 510.5,404.1 513.2,405.1 511.6,407.3 513.7,408.5 512.1,410.7 514.7,411.8 513.4,413.9 514.9,415.3 514.3,413.4 517.0,411.9 514.5,409.7 517.3,408.3 514.8,406.0 517.4,404.6 516.3,402.5 518.7,401.1 516.6,398.9 517.7,397.2 515.5,400.4 522.8,398.4 517.7,403.2 522.2,402.7 518.7,406.5 525.2,405.0 522.0,408.7 525.8,408.7 523.0,412.2 526.0,412.5 527.0,414.1 525.1,416.3 528.5,417.3 526.0,419.6 528.9,420.8 526.7,423.1 529.3,424.3 527.7,426.4 530.3,427.6 529.4,429.6 530.9,431.1 530.0,433.1 532.5,434.3 530.5,436.5 532.9,437.8 531.0,440.0 533.4,441.2 533.0,443.1 535.4,445.5 536.3,441.1 538.7,443.4 539.9,440.5 542.2,442.5 543.4,439.2 545.5,440.3 547.7,440.4 547.8,437.5 550.1,437.9 550.8,435.8 553.3,436.4 553.6,433.8 555.9,434.1 556.1,431.5 558.4,431.6 559.1,429.7 560.9,429.2 562.9,430.3 564.2,427.6 566.4,429.9 567.6,426.6 569.7,428.3 571.1,426.3 573.2,427.7 574.7,426.1 576.7,427.6 578.1,424.9 580.2,427.2 581.7,425.2 583.7,426.6 585.1,424.3 587.1,425.6 588.6,423.9 590.7,425.9 592.0,422.6 594.2,425.2 595.7,423.6 597.3,422.7 599.4,424.2 600.5,421.4 602.8,423.3 604.0,420.9 606.0,421.6 607.2,419.2 609.4,421.0 610.8,419.4 612.8,420.4 613.9,417.4 616.3,419.9 617.4,417.3 619.7,419.2 620.7,416.0 623.0,418.2 624.1,415.3 626.3,416.9 627.4,414.2 629.7,416.1 630.8,413.3 633.1,415.4 634.2,412.5 636.4,414.4 637.7,412.2 639.9,413.7 641.1,411.5 643.1,412.4 644.4,410.3 646.7,412.3 647.8,409.8 650.1,411.5 651.4,409.7 652.3,407.5 655.5,408.6 655.9,405.6 658.9,406.5 659.7,404.1 661.2,402.6 663.2,404.8 664.7,403.0 666.6,404.4 668.1,402.7 670.0,404.4 671.5,401.9 673.3,403.4 674.8,401.3 676.8,403.3 678.2,400.8 680.1,402.7 681.6,400.4 683.6,402.8 685.0,400.2 686.9,402.0 688.3,399.4 690.2,401.0 691.8,399.8 693.6,401.0 695.2,399.3 697.1,401.2 698.6,399.0 700.4,399.9 701.9,398.4 703.8,400.0 705.2,397.4 707.1,398.6 709.1,399.9 710.2,396.6 712.3,398.8 713.8,397.0 715.6,397.6 717.0,395.7 719.1,397.9 720.4,395.5 722.5,397.5 723.8,394.6 725.8,396.4 727.1,393.9 729.1,395.3 730.6,393.9 732.6,395.7 733.9,393.2 735.8,394.1 737.3,392.6 739.1,393.0 740.2,394.9 742.7,393.9 743.8,395.9 746.0,395.4 746.9,397.7 749.5,396.4 750.3,399.0 752.9,397.8 753.2,401.3 756.1,399.4 757.2,401.4 759.0,401.0 760.0,399.1 762.7,400.4 762.9,396.9 765.4,397.9 766.3,395.8 768.7,396.5 769.4,393.8 771.7,394.6 772.8,392.7 775.3,393.8 775.7,390.5 778.1,391.4 779.5,390.2 779.4,388.4 780.8,386.9 780.0,384.9 781.4,383.4 780.7,381.5 782.1,380.0 782.0,378.1 782.8,376.5 782.5,374.7 783.6,373.1 783.4,371.3 784.4,369.7 784.5,367.9 784.9,369.6 784.2,371.5 785.5,373.2 784.7,375.1 786.2,376.7 785.5,378.5 786.7,380.2 786.1,382.1 787.2,383.7 786.5,385.6 787.2,387.3 786.7,389.2 787.5,390.8 787.0,392.7 787.8,394.4 789.5,393.7 791.5,395.4 793.0,393.4 794.9,394.7 796.5,392.8 798.4,394.0 800.0,392.1 802.0,393.7 803.5,391.8 805.5,393.7 807.1,391.7 809.0,392.7 810.5,390.7 812.5,392.5 814.0,390.0 816.0,392.2 817.6,390.2 819.5,391.4 821.2,390.3 823.0,391.1 824.6,389.2 826.6,391.4 828.1,388.5 830.0,389.8 832.0,390.3 833.3,387.9 835.7,390.7 836.9,387.2 838.9,388.0 840.0,386.3 837.7,384.4 840.7,382.8 837.5,380.8 840.9,379.2 838.2,377.3 840.7,375.7 838.5,373.8 839.7,372.1 838.8,374.0 841.5,375.5 839.1,377.5 842.1,379.0 839.6,381.1 842.0,382.6 839.5,384.6 842.7,386.1 841.5,388.0 844.3,389.4 843.3,383.9 847.8,388.4 847.7,384.5 846.5,382.8 848.5,381.1 846.9,379.4 849.1,377.7 847.3,376.0 848.9,374.3 846.2,372.6 848.6,370.9 846.9,369.2 849.3,367.5 846.3,365.7 849.4,364.1 846.7,362.3 849.0,360.7 847.0,358.9 849.4,357.3 847.2,355.5 849.6,353.9 847.7,352.1 849.6,350.4 846.7,348.7 849.1,347.0 847.8,345.3 849.2,343.6 847.0,341.9 849.8,340.2 846.7,338.5 849.1,336.8 847.8,335.1 849.0,333.4 846.6,331.7 849.8,330.0 847.8,328.3 849.9,326.6 846.8,324.8 849.8,323.2 847.8,321.4 850.3,319.8 847.2,318.0 849.3,316.4 847.2,314.6 849.8,313.0 847.5,311.2 849.7,309.5 847.9,307.8 849.8,306.1 847.6,304.4 849.9,302.7 847.2,301.0 849.4,299.3 848.2,297.6 850.6,295.9 847.7,294.2 850.2,292.5 847.7,290.8 849.8,289.1 848.0,287.4 849.8,285.7 848.4,284.0 850.9,282.3 847.7,280.5 850.8,278.9 848.7,277.2 850.6,275.5 848.3,273.7 850.3,272.1 847.9,270.3 849.8,268.6 848.3,266.9 850.5,265.2 847.7,263.5 850.5,261.8 848.5,260.1 850.7,258.4 848.2,256.7 850.3,255.0 848.3,253.3 849.5,251.6 848.7,253.3 850.0,255.0 848.7,256.8 850.2,258.5 848.5,260.2 850.8,261.9 848.1,263.7 851.2,265.3 848.3,267.1 851.5,268.8 849.0,270.5 850.8,272.2 849.1,274.0 850.5,275.7 848.7,277.4 851.1,279.1 849.3,280.9 851.7,282.5 848.2,284.3 850.6,286.0 849.6,287.7 850.6,289.4 848.7,291.2 851.7,292.9 849.6,294.6 850.6,296.3 849.0,298.1 851.1,299.8 849.8,301.5 850.7,303.2 849.6,304.9 851.1,306.6 849.5,308.4 851.6,310.1 849.6,311.8 851.2,313.5 849.7,315.3 852.1,316.9 849.7,318.7 851.7,320.4 849.5,322.1 851.5,323.8 849.6,325.6 851.1,327.3 850.0,329.0 852.0,330.7 849.2,332.5 851.5,334.2 850.1,335.9 852.5,337.6 850.2,339.3 852.4,341.0 849.2,342.8 851.6,344.5 849.4,346.2 851.6,347.9 850.5,349.7 851.8,351.4 850.1,353.1 852.3,354.8 850.0,356.6 852.6,358.2 849.8,360.0 851.8,361.7 850.5,363.4 852.7,365.1 850.6,366.9 853.0,368.6 851.3,370.3 852.9,368.6 850.7,366.8 852.3,365.2 850.7,363.4 852.6,361.8 850.8,360.0 852.2,358.3 850.9,356.6 852.5,354.9 850.9,353.1 852.9,351.5 850.3,349.7 853.3,348.0 850.8,346.2 853.7,344.6 851.2,342.8 853.2,341.2 851.5,339.4 853.9,337.8 850.7,335.9 854.1,334.3 851.2,332.5 853.1,330.9 852.0,329.1 854.2,327.5 851.0,325.6 853.9,324.0 851.1,322.2 854.5,320.6 851.4,318.8 853.9,317.1 853.0,315.4 855.2,313.0 857.5,315.4 856.6,317.2 858.6,318.8 856.5,320.6 858.1,322.3 857.1,324.1 858.4,325.8 856.6,327.5 859.5,329.2 856.5,331.0 858.6,332.7 856.9,334.4 859.3,336.1 857.4,337.9 858.6,339.6 856.8,341.4 858.9,343.0 856.9,344.8 858.9,346.5 856.7,348.3 859.2,350.0 857.3,351.7 859.6,353.4 856.8,355.2 860.2,356.8 856.9,358.7 859.9,360.3 858.0,362.1 859.3,363.8 857.5,365.6 860.5,367.2 857.3,369.0 859.5,370.7 857.9,372.5 860.6,374.1 857.8,375.9 860.6,377.6 857.4,379.4 860.5,381.1 857.8,382.8 860.5,384.5 858.2,386.3 859.2,388.0 861.2,389.3 857.1,393.0 862.4,392.9 860.4,395.8 862.8,396.9 861.1,393.9 868.0,395.1 865.4,391.6 864.8,389.9 866.4,388.2 864.1,386.4 866.7,384.9 864.9,383.0 867.0,381.5 865.6,379.7 868.0,378.1 865.0,376.2 866.9,374.6 866.0,372.9 867.3,371.2 865.9,369.4 868.6,367.9 866.4,366.1 867.9,364.4 866.4,362.6 868.5,361.1 865.8,359.2 868.7,357.7 866.0,355.8 869.0,354.3 866.9,352.4 869.6,350.9 868.1,349.1 867.0,347.2 869.4,345.6 867.3,343.7 869.5,342.1 867.7,340.2 869.4,338.5 868.3,336.6 870.6,335.0 868.6,333.1 870.1,331.4 868.8,329.6 870.6,327.9 869.3,326.0 870.8,324.4 868.8,322.4 871.5,320.9 868.7,318.9 871.0,317.3 869.2,315.3 871.4,313.7 870.8,311.9 873.5,311.9 870.9,316.3 876.8,313.6 875.2,317.2 873.1,320.1 880.3,319.3 876.3,322.9 879.8,323.5 878.7,326.0 877.9,327.9 879.7,329.5 878.9,331.4 880.6,333.0 878.8,335.0 880.8,336.5 879.9,338.5 881.6,340.1 879.5,342.2 882.4,343.6 879.7,345.7 883.0,347.1 880.3,349.3 883.4,350.6 881.4,352.7 883.7,354.2 882.4,356.2 883.2,357.9 882.8,356.2 884.8,354.6 882.0,352.7 884.3,351.2 883.2,349.4 885.0,347.8 883.4,346.0 885.9,344.5 883.7,342.6 885.5,341.0 883.7,339.2 886.7,337.7 884.3,335.8 886.5,334.3 884.9,332.4 886.6,330.9 884.0,328.9 886.6,327.4 885.0,325.6 887.4,324.1 885.1,322.2 887.6,320.7 885.3,318.8 886.7,317.2 885.5,319.0 887.8,320.6 886.1,322.4 888.1,324.0 886.1,325.8 888.6,327.4 885.9,329.3 888.6,330.8 886.7,332.7 889.4,334.2 886.2,336.2 888.8,337.7 886.7,339.6 889.1,341.1 886.9,343.0 889.0,344.6 887.5,346.4 889.9,348.0 887.5,349.8 890.6,351.3 887.6,353.3 890.4,354.8 888.2,356.7 889.9,358.3 888.3,360.1 890.8,361.7 888.3,363.5 890.5,365.1 888.7,367.0 890.6,368.6 890.2,370.3 891.8,368.7 889.0,366.7 891.7,365.2 889.5,363.3 892.4,361.8 890.3,359.9 891.9,358.3 890.0,356.4 892.6,354.9 891.2,353.1 893.0,351.5 890.6,349.5 894.1,348.1 891.3,346.1 894.4,344.7 892.1,342.7 894.1,341.2 892.7,339.3 894.1,337.7 891.8,335.8 894.2,334.3 892.5,332.4 895.1,330.9 892.4,328.9 896.1,327.5 893.8,325.6 895.4,324.0 893.0,322.0 895.8,320.6 894.4,318.7 896.9,317.2 894.2,315.2 895.6,313.6 895.0,315.4 897.3,316.8 895.3,318.8 897.7,320.2 895.7,322.2 897.8,323.6 896.1,325.6 899.3,326.9 896.6,329.0 899.6,330.3 897.6,332.3 899.3,333.8 898.4,335.6 900.9,337.0 898.8,339.0 900.6,340.5 898.6,342.5 901.6,343.8 899.1,345.9 901.7,347.3 900.9,349.1 899.5,351.0 902.2,352.5 899.8,354.5 902.0,356.1 900.2,358.0 902.3,359.7 900.9,361.5 903.1,363.1 901.5,365.1 903.4,366.7 900.9,368.7 902.6,370.3 902.4,368.5 903.8,367.0 901.6,365.0 904.7,363.7 902.9,361.7 905.8,360.4 902.9,358.3 905.3,356.9 903.7,354.9 905.9,353.5 903.9,351.5 906.9,350.3 904.4,348.2 906.7,346.8 904.8,344.8 907.5,343.4 905.4,341.4 908.3,340.1 905.9,338.0 908.3,336.7 908.0,334.9 908.9,336.6 907.6,338.6 910.7,339.9 908.3,342.2 910.9,343.5 909.4,345.7 911.6,347.1 909.8,349.3 912.8,350.5 911.5,352.6 915.1,352.2 910.5,348.5 914.8,348.3 912.7,345.6 918.4,346.0 912.7,341.9 917.6,342.0 913.5,338.4 918.8,338.7 915.8,335.6 918.6,334.9 920.5,333.3 918.5,331.3 919.9,329.7 919.0,327.7 920.4,326.1 919.1,324.1 921.1,322.6 919.6,320.6 921.2,319.0 919.8,317.0 922.2,315.5 920.0,313.4 922.5,312.0 920.6,309.9 922.1,308.3 923.3,306.7 921.3,304.5 923.7,303.1 922.2,301.0 924.6,299.6 922.8,297.5 925.4,296.1 923.3,294.0 925.7,292.5 923.6,290.4 927.1,289.2 925.7,287.1 926.8,284.1 930.0,289.0 930.2,282.7 932.8,285.3 933.7,283.6 931.7,281.8 934.0,280.2 931.9,278.4 934.1,276.8 932.0,275.0 933.9,273.3 932.5,271.5 934.0,269.9 932.1,268.1 934.2,266.4 932.0,264.7 935.2,263.0 932.1,261.2 934.5,259.6 932.0,257.8 934.6,256.2 932.8,254.4 935.1,252.7 932.6,250.9 935.0,249.3 932.5,247.5 935.7,245.9 933.3,244.1 934.9,242.4 933.2,240.6 935.7,239.0 933.0,237.2 935.1,235.6 933.5,233.8 934.5,232.1 936.3,230.4 933.0,228.5 936.1,226.9 933.4,224.9 936.6,223.3 934.4,221.4 935.7,219.7 934.0,217.9 936.4,216.2 934.1,214.3 936.4,212.7 934.7,210.8 937.3,209.1 935.3,207.3 937.0,205.6 935.4,203.7 937.4,202.0 936.3,200.2 934.9,198.4 938.2,196.8 935.0,195.0 937.2,193.4 935.6,191.6 937.9,190.0 935.4,188.2 938.2,186.6 935.1,184.7 938.6,183.2 936.3,181.4 937.7,179.7 935.3,177.9 937.8,176.3 935.5,174.5 937.9,172.9 936.1,171.1 938.0,169.4 936.8,167.7 938.4,166.0 936.1,164.2 939.1,162.6 936.8,160.8 938.4,159.2 936.9,157.4 938.6,155.8 937.2,154.0 939.2,152.4 938.1,150.6 940.7,150.6 941.8,152.3 939.0,154.0 941.3,155.8 939.6,157.5 942.0,159.2 940.1,160.9 941.7,162.6 940.2,164.4 942.5,166.1 939.9,167.8 941.4,169.5 939.8,171.2 942.0,172.9 939.2,174.7 942.3,176.4 940.2,178.1 942.6,179.8 940.5,181.5 942.4,183.2 940.5,185.0 942.5,186.7 940.3,188.4 942.5,190.1 939.5,191.8 942.5,193.5 940.5,195.3 942.1,197.0 940.5,198.7 942.5,200.4 939.3,202.2 942.3,203.9 939.8,205.6 942.5,207.3 940.5,209.0 942.1,210.7 940.3,212.5 942.7,214.2 940.2,215.9 942.2,217.6 940.1,219.3 942.0,221.0 940.7,222.8 942.1,224.5 940.8,226.2 942.7,227.9 940.3,229.6 942.6,231.3 940.1,233.1 941.9,234.8 939.8,236.5 943.0,238.2 940.9,239.9 942.5,241.7 939.9,243.4 942.5,245.1 939.9,246.8 942.9,248.5 940.1,250.3 943.2,252.0 940.0,253.7 942.8,255.4 941.0,257.1 942.6,258.8 940.2,260.6 942.7,262.3 941.6,264.0 940.4,265.8 942.7,267.4 940.2,269.2 942.7,270.8 940.6,272.6 943.1,274.2 941.4,276.0 942.6,277.6 941.6,279.4 943.1,281.0 941.3,282.8 942.9,284.4 942.0,286.2 944.1,287.8 940.9,289.6 943.7,291.2 941.7,293.0 944.1,294.6 942.3,296.4 944.2,298.0 941.7,299.8 944.8,301.4 941.9,303.2 944.4,304.8 942.3,306.6 943.4,308.3 945.1,310.0 942.3,311.8 944.6,313.5 942.0,315.2 944.5,317.0 943.0,318.7 944.8,320.4 941.9,322.2 944.5,323.9 943.0,325.6 944.2,327.4 942.0,329.1 944.3,330.8 942.3,332.6 944.3,334.3 942.6,336.0 945.4,337.7 943.0,339.5 944.6,341.2 942.5,343.0 945.0,344.7 942.6,346.4 944.8,348.1 943.4,349.9 945.1,351.6 943.1,353.4 945.2,355.1 942.9,356.8 944.8,358.5 942.2,360.3 944.9,362.0 942.3,363.8 945.1,365.5 942.9,367.2 944.9,368.9 943.4,370.7 945.5,372.4 943.1,374.2 945.4,375.9 943.5,377.6 945.3,379.3 942.9,381.1 945.7,382.8 942.9,384.6 945.3,386.3 944.3,388.0 943.1,389.9 945.9,391.4 943.7,393.4 946.3,395.0 944.3,397.0 945.9,398.6 944.9,400.5 947.4,402.0 944.2,404.1 947.4,405.6 945.5,407.6 947.8,409.1 945.2,411.2 947.8,412.7 946.9,414.6 946.5,416.4 948.0,417.9 946.3,420.0 949.7,421.1 947.1,423.3 949.7,424.6 947.8,426.7 950.8,427.9 948.7,430.0 950.5,431.5 948.8,433.5 951.6,434.8 949.6,436.9 952.3,438.1 951.1,440.1 952.8,441.6 951.7,443.5 953.2,445.0 951.3,447.1 954.3,448.3 952.3,450.4 954.2,451.8 954.0,453.6 955.5,452.0 953.5,449.9 956.1,448.5 954.1,446.3 957.0,445.0 955.0,442.8 957.3,441.4 955.5,439.3 957.9,437.9 955.9,435.7 958.0,434.2 957.3,432.3 958.6,430.7 957.9,428.7 959.7,427.2 958.2,425.1 959.3,423.5 959.5,427.1 963.6,424.7 964.7,427.0 965.7,425.5 964.2,423.3 966.5,422.1 965.7,420.1 968.1,419.0 966.3,416.8 968.4,415.5 967.7,413.6 969.7,412.3 968.4,410.2 970.9,409.1 969.3,406.9 971.8,405.8 970.4,403.6 972.3,402.3 971.7,400.4 972.8,402.0 971.6,404.1 973.8,405.5 972.0,407.8 974.3,409.1 972.8,411.3 974.9,412.7 973.8,414.8 975.3,416.3" fill="none" stroke="#a6a6a6" stroke-width="3.5" stroke-linejoin="round" stroke-linecap="round" filter="url(#bl)"/>
<polyline points="126.5,857.8 125.3,856.0 127.7,854.2 126.1,852.5 126.9,850.7 125.4,848.9 127.5,847.1 125.6,845.3 127.1,843.6 125.6,841.8 126.5,840.0 127.0,842.5 130.4,840.1 130.5,843.4 133.2,842.1 133.2,845.5 135.4,845.1 136.4,842.5 139.7,846.4 139.6,840.8 142.8,844.2 143.3,840.5 145.6,841.3 145.4,843.5 148.0,844.4 147.5,846.7 150.4,847.4 148.7,850.4 150.7,851.5 150.4,849.2 154.7,849.8 152.0,846.1 156.0,846.4 154.4,843.4 156.9,842.8 156.1,840.2 158.9,839.9 157.6,837.0 162.3,837.8 160.9,834.9 162.2,832.3 165.0,834.6 165.8,830.7 168.5,832.4 169.2,835.2 172.6,831.8 172.4,836.8 175.8,833.1 175.7,837.9 178.8,835.3 178.8,839.7 182.5,835.5 182.7,839.5 185.5,837.3 186.3,840.0 186.1,842.8 190.0,841.4 188.9,845.1 191.4,845.1 193.1,843.3 195.3,847.4 196.8,843.1 198.9,847.0 200.5,843.1 202.6,846.8 204.2,841.8 206.3,845.8 207.9,842.2 210.0,846.5 211.7,843.8 211.8,841.0 215.5,843.1 215.2,839.8 218.1,840.7 217.4,836.9 220.6,838.4 219.9,834.5 223.6,836.5 222.7,832.5 226.4,834.5 227.0,832.4 229.1,830.1 230.0,835.0 232.3,831.6 233.5,835.2 235.8,831.8 236.8,835.9 239.0,833.1 240.3,835.7 242.2,834.9 243.3,832.7 246.3,836.3 246.5,831.4 249.0,833.5 249.6,830.0 252.7,833.7 252.9,828.7 255.6,831.6 256.2,827.9 258.8,830.2 259.6,827.0 262.2,829.6 263.1,826.8 265.1,827.3 263.8,830.1 267.6,830.3 266.1,833.2 270.7,833.0 268.3,836.3 270.2,837.5 272.3,837.2 272.6,841.2 275.9,838.2 276.1,842.3 278.9,840.3 279.8,843.0 282.4,841.5 282.9,845.0 285.4,843.8 286.3,842.0 289.8,843.6 289.2,839.9 292.4,841.0 292.0,837.6 294.6,838.0 293.8,834.1 297.3,835.6 298.1,833.7 299.7,832.5 301.7,835.5 303.1,831.8 305.0,833.9 306.4,830.3 308.4,833.8 309.9,831.9 311.8,833.9 313.4,832.4 315.6,830.9 316.5,835.3 318.9,832.7 320.2,835.2 322.5,833.6 323.7,836.2 326.3,832.9 327.2,837.6 329.9,833.4 331.2,836.2 332.8,838.5 334.9,834.0 336.4,838.7 338.4,835.1 340.0,838.0 342.0,835.0 343.6,838.4 345.5,836.4 347.1,838.9 349.0,837.5 348.1,834.6 351.9,835.1 350.8,832.0 354.5,832.6 353.1,829.2 356.3,829.3 354.5,825.7 358.6,826.6 357.2,823.2 361.1,823.8 360.4,821.0 363.5,821.1 362.3,818.0 364.2,817.1 365.5,818.7 367.9,818.1 368.9,820.5 371.4,819.7 371.8,823.1 374.4,822.2 376.6,823.4 373.0,826.4 378.5,826.5 374.1,829.9 378.3,830.3 376.3,832.9 379.5,833.7 377.2,836.4 379.5,837.5 382.1,837.4 380.4,841.7 384.8,839.8 383.8,843.4 387.0,842.7 385.9,846.3 388.9,845.9 389.7,847.6 391.3,846.4 390.3,843.7 393.3,843.3 391.7,840.2 395.4,840.3 394.6,837.6 397.2,837.0 397.3,834.9 399.4,835.0 399.4,837.9 402.5,836.7 401.9,840.4 405.0,839.1 404.5,842.8 407.7,841.3 406.9,845.3 411.4,842.2 409.9,847.1 412.6,846.4 413.5,844.3 416.4,846.6 416.5,842.7 419.2,844.4 419.8,841.6 422.7,843.9 423.1,840.7 425.4,841.7 425.7,838.1 428.8,840.9 429.1,837.3 432.4,840.5 432.9,837.5 435.6,837.3 434.9,840.9 438.9,839.2 437.6,843.5 440.0,843.7 442.0,843.4 443.2,846.4 445.6,843.9 447.0,846.4 449.5,843.2 450.5,847.9 452.8,845.5 454.5,846.6 455.5,844.9 454.3,842.9 456.2,841.4 455.1,839.4 456.8,837.8 455.8,835.8 457.1,834.2 456.1,832.2 458.3,830.7 456.9,828.7 458.7,827.1 457.4,825.1 458.2,823.4 460.4,824.9 461.1,820.9 463.2,822.0 462.3,824.4 466.9,824.4 463.9,827.7 467.1,828.3 465.9,830.8 467.6,832.1 468.8,830.3 472.3,832.5 471.6,827.3 475.8,830.8 475.0,825.3 477.8,826.3 478.3,824.6 477.1,822.8 479.3,821.2 477.3,819.3 479.3,817.7 477.9,815.9 479.6,814.3 477.8,812.4 479.6,810.8 478.3,809.0 480.1,807.4 478.1,805.5 480.7,804.0 478.4,802.0 481.0,800.5 480.0,798.7 480.8,800.4 479.8,802.2 481.3,803.8 480.1,805.6 481.6,807.2 480.0,809.1 482.4,810.6 480.4,812.5 482.6,814.1 481.2,815.9 482.5,817.5 480.6,819.4 482.6,821.0 481.5,822.8 482.9,824.4 482.2,826.2 484.0,827.8 481.6,829.8 484.1,831.3 482.8,833.1 484.1,834.7 483.6,836.5 484.4,834.8 483.0,832.9 485.3,831.4 483.7,829.4 485.5,827.9 484.4,826.0 486.0,824.4 484.0,822.4 486.6,820.9 485.3,819.0 486.8,817.4 485.1,815.4 487.0,813.9 485.4,811.9 487.6,810.4 486.0,808.5 488.0,806.9 486.1,804.9 488.8,803.5 487.9,801.6 487.5,799.7 489.3,798.5 488.5,796.5 490.1,795.1 489.3,793.2 491.9,792.1 490.6,790.0 491.6,788.5 490.8,790.3 492.6,791.9 491.1,793.7 493.0,795.3 490.7,797.2 493.1,798.8 491.4,800.6 493.6,802.2 491.7,804.0 493.5,805.7 491.5,807.5 493.7,809.1 491.5,810.9 493.3,812.6 491.9,814.4 493.6,816.0 492.0,817.8 494.4,819.4 492.2,821.3 493.6,822.9 492.5,824.7 494.4,826.3 492.2,828.2 494.6,829.8 492.5,831.6 494.1,833.3 493.8,835.0 495.3,833.4 493.2,831.3 495.4,829.8 493.5,827.8 496.2,826.4 494.7,824.4 496.5,822.8 494.5,820.8 496.4,819.2 495.0,817.3 497.2,815.8 496.0,813.8 497.9,812.3 496.5,810.3 498.1,808.8 496.7,806.8 498.2,805.2 497.0,803.2 498.1,801.6 497.8,804.1 501.3,803.8 499.1,807.7 502.5,807.4 503.4,809.0 503.2,811.0 504.8,812.4 503.4,814.7 506.0,815.9 504.5,818.2 506.9,819.4 505.6,821.7 507.7,823.0 507.6,824.9 509.5,823.7 507.1,821.0 510.2,820.3 509.2,818.0 513.0,817.6 510.3,814.7 514.3,814.3 512.6,811.8 511.2,809.1 515.7,809.4 513.0,806.0 518.1,806.6 514.2,802.6 518.3,802.7 517.2,800.2 520.4,799.8 518.2,796.7 521.9,796.5 521.4,794.3 522.9,795.6 521.3,798.5 526.5,798.0 523.3,801.7 527.3,801.8 524.9,805.0 527.2,806.0 528.5,807.5 527.2,809.9 529.6,811.0 528.6,813.3 530.8,814.5 530.0,816.7 532.3,817.8 531.5,820.0 533.3,821.4 533.0,823.4 535.1,823.0 534.2,819.6 538.2,821.2 536.7,817.1 540.2,818.1 538.9,814.4 541.7,814.7 543.4,815.5 545.2,812.9 546.9,816.1 548.7,813.1 550.4,814.7 549.2,817.4 554.0,817.1 551.3,820.5 554.8,820.8 553.6,823.5 556.7,824.0 556.2,826.3 558.1,827.1 559.5,824.6 561.8,827.9 563.0,824.4 564.9,824.9 564.2,827.8 568.2,827.8 567.1,831.0 569.3,832.1 569.2,830.2 570.5,828.7 570.0,826.7 571.5,825.2 570.9,823.2 572.5,821.8 571.4,819.7 573.8,818.4 572.6,816.3 573.7,814.7 576.3,815.1 575.2,810.6 578.8,812.4 579.5,810.3 579.3,808.5 580.3,806.7 579.6,804.8 581.0,803.1 579.8,801.2 581.1,799.5 579.8,797.5 580.9,795.8 583.0,796.2 583.7,792.6 586.7,795.8 587.4,792.2 589.6,792.9 593.5,792.5 589.0,788.9 594.9,789.2 588.6,784.9 595.1,785.5 590.5,781.9 594.0,781.3 595.9,779.7 592.9,777.7 595.9,776.2 593.0,774.1 596.5,772.7 593.5,770.6 596.8,769.1 594.4,767.2 596.7,765.6 594.2,763.6 596.6,762.0 594.9,760.1 596.7,758.5 594.4,756.5 597.2,755.0 595.4,753.1 598.2,751.6 596.0,749.6 596.9,747.9 595.4,749.9 598.0,751.3 597.1,753.2 598.7,754.7 597.1,756.7 599.9,758.1 596.8,760.3 600.1,761.6 597.8,763.7 600.3,765.2 598.6,767.1 601.1,768.6 598.8,770.6 600.8,772.2 598.9,774.2 601.1,775.7 599.8,777.6 602.5,779.0 600.5,781.0 601.3,782.7 601.1,780.8 602.9,779.4 601.8,777.3 604.0,776.0 602.7,773.8 604.8,772.5 603.6,770.3 605.5,769.0 603.9,766.7 605.6,765.3 606.6,763.6 604.9,761.7 607.4,760.1 605.6,758.2 606.9,756.5 604.7,754.5 607.5,752.9 605.1,751.0 607.3,749.3 605.7,747.4 608.5,745.9 606.2,743.9 608.7,742.3 606.0,740.3 608.4,738.7 605.8,736.7 608.7,735.1 607.8,733.3 608.9,735.0 606.6,736.8 608.8,738.5 606.4,740.3 609.3,742.0 606.9,743.8 609.3,745.5 606.4,747.3 610.0,748.9 606.7,750.8 609.4,752.4 607.4,754.2 609.6,755.9 608.0,757.7 609.1,759.4 606.8,761.2 609.3,762.9 607.0,764.7 610.1,766.4 607.1,768.2 609.4,769.9 608.0,771.7 610.5,773.4 608.5,775.2 609.6,776.9 608.2,778.7 609.8,780.4 608.6,782.1 610.6,783.8 609.3,785.6 610.2,784.0 608.2,781.9 611.5,780.8 610.0,778.7 612.4,777.4 610.3,775.3 612.5,774.0 610.5,771.9 612.6,770.5 611.2,768.5 613.1,767.1 612.9,765.3 613.8,767.0 611.5,768.9 614.9,770.4 612.3,772.4 615.0,773.9 612.2,775.9 614.6,777.4 613.0,779.3 614.8,780.9 613.8,782.8 615.1,784.4 613.9,786.2 615.3,787.9 614.2,789.7 615.1,791.4 614.2,789.7 616.5,788.0 613.6,786.3 616.9,784.6 613.9,782.9 616.4,781.2 613.7,779.5 616.0,777.8 614.8,776.1 617.0,774.4 614.2,772.7 616.2,771.0 614.6,769.3 616.4,767.6 614.6,765.9 616.7,764.2 614.7,762.5 617.2,760.8 614.2,759.1 617.0,757.4 614.7,755.7 616.7,754.0 614.4,752.3 617.7,750.6 615.2,748.9 617.4,747.2 614.6,745.5 617.4,743.8 615.6,742.1 617.3,740.4 615.4,738.7 616.9,737.0 615.0,735.3 617.6,733.6 615.0,731.9 617.8,730.2 615.0,728.5 617.5,726.8 615.9,725.1 618.0,723.4 616.5,721.7 615.0,719.9 618.2,718.2 615.4,716.3 617.3,714.6 616.1,712.8 617.5,711.1 615.6,709.3 618.2,707.6 616.4,705.7 618.9,704.1 615.4,702.2 618.9,700.5 616.3,698.7 618.3,697.0 616.7,695.1 619.1,693.4 616.2,691.6 618.5,689.9 616.1,688.0 619.0,686.4 616.9,684.5 618.9,682.8 618.0,681.0 619.5,682.7 617.1,684.6 619.6,686.2 617.8,688.1 619.9,689.8 617.8,691.7 620.3,693.3 618.0,695.2 619.8,696.9 617.8,698.8 620.0,700.4 618.0,702.3 620.9,703.9 618.6,705.8 620.9,707.5 618.1,709.4 621.1,711.0 618.7,712.9 620.9,714.6 619.0,716.4 621.1,718.1 619.3,720.0 620.2,721.7 619.5,720.0 621.4,718.3 619.6,716.5 621.5,714.8 619.2,713.0 621.3,711.4 619.8,709.6 621.8,707.9 619.0,706.1 621.4,704.5 619.4,702.7 622.1,701.0 619.1,699.2 622.2,697.6 620.0,695.8 621.6,694.1 619.4,692.3 621.8,690.7 620.6,688.9 622.7,687.2 620.4,685.5 622.0,683.8 620.3,682.0 622.0,680.3 619.9,678.5 622.3,676.9 620.3,675.1 622.4,673.4 619.9,671.6 622.0,670.0 620.3,668.2 621.6,666.5 622.4,664.8 621.3,663.0 623.4,661.5 621.4,659.5 623.0,657.9 621.5,656.0 624.5,654.6 621.7,652.6 624.3,651.1 621.9,649.1 625.3,647.7 623.1,645.7 624.8,644.2 622.4,642.2 626.0,640.8 624.5,638.9 625.3,640.6 623.2,642.3 626.2,644.0 623.4,645.7 626.1,647.4 623.5,649.1 625.5,650.8 624.0,652.5 625.3,654.2 623.5,655.9 625.5,657.6 623.6,659.3 625.9,661.0 623.9,662.7 626.7,664.4 624.0,666.1 626.1,667.8 624.1,669.5 625.8,671.2 624.4,672.9 626.3,674.6 623.6,676.4 625.8,678.0 623.5,679.8 626.6,681.4 624.8,683.1 626.8,684.8 624.4,686.6 626.6,688.2 624.9,690.0 626.6,691.6 624.4,693.4 627.0,695.0 624.3,696.8 627.0,698.4 624.2,700.2 626.4,701.8 625.2,703.6 626.8,705.2 625.1,707.0 626.4,708.6 624.9,710.4 627.0,712.0 624.6,713.8 627.2,715.4 624.2,717.2 626.6,718.9 625.1,720.6 626.5,722.3 625.1,724.0 626.9,725.7 625.7,727.4 626.8,729.1 625.2,730.8 627.0,732.5 625.0,734.2 627.0,735.9 625.6,737.6 627.6,739.3 625.4,741.0 626.9,742.7 625.3,744.4 627.2,746.1 625.2,747.8 627.5,749.5 625.4,751.2 627.9,752.9 625.8,754.6 628.0,756.3 626.7,758.0 626.4,759.8 627.4,761.5 625.6,763.3 627.1,765.0 625.8,766.8 628.2,768.5 625.8,770.3 628.1,772.0 626.5,773.8 627.8,775.5 626.0,777.3 627.8,779.1 626.3,780.8 628.2,782.6 626.6,784.3 627.5,786.1 626.2,787.9 628.5,789.6 626.0,791.4 628.2,793.1 626.6,794.9 628.5,796.6 626.9,798.4 627.9,800.1 626.2,801.9 628.6,803.6 626.6,805.4 628.6,807.1 627.4,808.9 627.9,807.2 626.6,805.4 628.0,803.8 627.1,802.0 628.3,800.4 627.5,798.6 628.7,796.9 627.2,795.1 628.7,793.5 627.2,791.7 628.7,790.1 627.5,788.3 629.3,786.7 627.8,784.9 629.8,783.2 628.2,781.5 629.5,779.8 628.0,778.0 629.6,776.4 627.6,774.6 630.0,772.9 628.3,771.1 630.0,769.5 628.5,767.7 630.7,766.1 628.3,764.3 630.5,762.7 629.6,760.9 630.2,762.6 628.8,764.4 630.2,766.1 629.1,767.8 630.2,769.5 628.9,771.3 631.3,772.9 629.0,774.7 631.0,776.4 629.5,778.2 630.9,779.8 629.4,781.6 631.0,783.3 629.7,785.0 630.9,786.7 629.3,788.5 631.8,790.2 629.4,792.0 631.5,793.6 630.3,795.4 631.3,797.1 629.5,798.8 632.1,800.5 629.9,802.3 631.8,804.0 629.9,805.7 631.6,807.4 630.0,809.2 631.8,810.9 629.9,812.6 632.0,814.3 630.2,816.1 632.2,817.7 630.5,819.5 632.2,821.2 630.1,823.0 632.6,824.6 630.8,826.4 632.4,828.1 630.4,829.9 632.8,831.5 630.8,833.3 631.8,835.0 633.3,836.5 631.7,838.4 633.3,840.0 631.6,841.9 633.6,843.4 631.7,845.3 634.5,846.7 632.7,848.6 634.6,850.1 632.7,852.1 635.0,853.5 633.5,855.4 635.5,856.9 633.9,858.8 635.3,860.4 634.0,862.2 636.2,863.7 635.4,865.5 636.2,863.8 634.7,862.1 636.9,860.4 634.5,858.6 636.5,857.0 634.5,855.2 636.8,853.6 635.2,851.8 637.0,850.2 634.9,848.4 637.4,846.8 635.2,845.0 637.3,843.3 635.6,841.5 636.7,839.9 635.6,838.1 637.0,836.5 635.3,834.7 637.3,833.1 635.7,831.3 637.8,829.7 636.3,827.9 638.1,826.2 636.3,824.5 637.4,822.8 636.1,821.0 637.9,819.4 635.9,817.6 638.1,816.0 636.9,814.2 637.8,812.5 637.1,810.8 638.4,809.1 637.6,807.4 640.1,805.6 641.3,809.2 643.4,808.9 644.3,810.5 643.0,812.4 645.2,813.9 642.9,815.9 645.6,817.3 643.6,819.3 645.7,820.8 644.4,822.7 646.2,824.2 644.9,826.1 646.2,827.7 644.6,829.6 646.9,831.1 645.1,833.0 647.2,834.5 646.0,836.4 647.6,837.9 646.1,839.9 647.8,841.4 646.2,843.3 648.9,844.7 647.8,846.6 649.9,845.9 649.2,842.9 653.4,843.9 650.8,839.3 654.8,840.2 655.0,837.9 656.7,835.8 658.5,839.2 660.2,835.2 662.0,840.0 663.7,837.9 663.0,836.1 664.6,834.5 663.5,832.6 665.3,831.0 664.0,829.1 665.4,827.5 664.5,825.7 666.3,824.1 664.2,822.1 666.8,820.6 664.9,818.7 667.2,817.1 665.7,815.2 667.0,813.6 666.6,811.8 669.5,812.4 667.6,815.5 670.0,816.3 667.7,819.6 671.9,819.5 670.6,822.3 672.5,823.4 674.7,822.2 675.7,826.8 678.3,823.8 680.0,825.0 678.5,827.9 683.0,827.3 680.8,830.5 685.0,830.1 683.5,833.0 687.7,832.5 685.1,836.1 689.2,835.7 685.5,839.9 688.7,840.0 688.3,838.1 690.7,836.8 689.4,834.7 690.6,833.1 689.7,831.1 691.3,829.6 690.1,827.5 692.5,826.2 690.8,824.0 692.9,822.6 692.3,820.7 694.3,819.3 692.9,817.1 694.5,815.7 693.7,813.7 694.5,812.0 697.2,811.2 694.5,807.8 698.1,807.4 697.1,804.8 700.0,804.1 697.2,800.6 700.3,800.0 701.4,802.0 704.2,799.7 704.2,804.5 707.9,799.8 707.3,806.3 711.2,801.0 710.5,807.7 713.4,805.0 715.6,805.9 712.1,810.2 717.2,809.5 716.1,812.3 719.4,812.7 719.2,815.0 718.0,817.0 720.9,818.4 718.5,820.7 722.2,821.8 719.1,824.2 722.3,825.5 720.5,827.7 723.4,829.0 720.6,831.3 723.0,832.7 721.5,834.9 723.4,836.3 722.8,838.3 723.6,840.0 722.4,838.2 725.2,836.6 722.3,834.7 725.5,833.2 723.5,831.3 725.7,829.7 722.6,827.8 725.9,826.2 723.5,824.4 725.6,822.7 724.3,820.9 726.2,819.3 723.3,817.4 725.8,815.8 723.7,813.9 727.0,812.4 724.6,810.5 727.2,808.9 725.1,807.1 726.7,805.4 724.7,803.6 727.7,802.0 725.0,800.1 726.8,798.5 724.7,796.6 726.5,795.0 725.6,796.9 728.6,798.2 726.7,800.3 728.6,801.7 727.4,803.7 729.0,805.2 727.6,807.2 729.9,808.6 727.9,810.7 731.1,812.0 728.9,814.1 731.8,815.4 729.1,817.6 731.6,819.0 730.3,821.0 733.0,822.3 730.3,824.5 732.4,825.9 730.8,828.0 733.4,829.3 731.8,831.4 734.6,832.7 732.7,834.8 734.5,836.2 732.8,838.3 735.9,839.5 734.0,841.6 736.5,843.0 735.2,845.0 736.8,843.4 734.8,841.5 737.0,840.0 734.5,838.1 737.3,836.6 734.9,834.6 737.1,833.1 735.2,831.2 737.2,829.7 735.6,827.8 737.8,826.3 736.3,824.4 737.8,822.8 736.3,821.0 738.3,819.4 736.3,817.5 739.1,816.1 737.0,814.2 739.1,812.6 737.1,810.7 738.9,809.2 737.7,807.3 740.2,805.8 736.9,803.8 740.3,802.4 738.2,800.5 739.7,798.9 738.6,797.1 740.2,795.5 738.4,793.6 739.6,792.0 739.3,793.8 741.0,795.3 738.8,797.3 741.9,798.7 739.9,800.7 741.2,802.3 739.5,804.3 742.1,805.7 740.5,807.6 742.2,809.2 740.9,811.1 742.7,812.6 741.3,814.5 743.1,816.1 741.4,818.0 744.3,819.5 742.1,821.5 744.1,823.0 742.2,824.9 745.1,826.4 742.2,828.4 743.9,830.0 742.2,828.2 744.8,826.6 742.7,824.7 745.1,823.1 743.2,821.3 745.6,819.7 743.4,817.8 745.6,816.2 744.2,814.4 745.3,812.7 743.3,810.8 746.7,809.3 744.1,807.4 745.8,805.8 743.8,803.9 746.6,802.3 744.5,800.5 747.0,798.9 745.1,797.0 746.6,795.4 744.4,793.5 747.5,791.9 744.3,790.0 747.3,788.5 744.6,786.6 748.1,785.0 745.4,783.1 748.3,781.6 746.0,779.7 746.8,778.0 746.5,779.8 748.8,781.3 746.8,783.4 748.8,784.9 746.4,787.0 749.4,788.4 747.5,790.4 750.0,791.9 748.2,793.9 750.1,795.5 747.5,797.6 750.5,799.0 748.7,801.0 751.5,802.5 748.5,804.6 751.7,806.0 748.7,808.1 752.3,809.5 749.6,811.6 752.5,813.1 751.2,815.0 752.8,813.6 751.4,811.4 753.4,810.2 752.4,808.1 754.1,806.8 754.1,805.0 753.0,803.1 755.5,801.6 753.1,799.5 755.5,798.1 753.7,796.1 756.1,794.6 754.8,792.6 756.7,791.1 754.4,789.0 757.6,787.7 755.4,785.6 757.4,784.1 756.4,782.2 758.1,780.6 755.6,778.5 758.7,777.1 756.5,775.1 759.7,773.7 757.8,771.7 758.5,770.0 758.0,771.9 760.2,773.3 758.8,775.4 760.8,776.9 758.9,779.1 761.2,780.5 759.5,782.6 762.1,784.0 760.3,786.1 762.6,787.5 760.8,789.7 763.6,791.0 761.4,793.2 765.0,794.4 762.4,796.7 764.4,798.1 764.3,800.0 765.3,798.3 762.7,796.5 765.9,794.9 763.2,793.1 765.8,791.5 763.1,789.7 766.6,788.1 763.7,786.3 766.3,784.7 764.6,782.9 765.7,781.3 764.6,779.5 766.8,777.9 763.9,776.0 767.1,774.5 764.0,772.6 766.2,771.0 765.3,769.3 766.7,767.6 765.5,765.9 767.3,764.2 764.5,762.4 767.9,760.8 765.8,759.0 767.8,757.4 765.2,755.6 767.9,754.0 765.7,752.2 767.5,750.6 765.2,748.7 768.6,747.2 765.6,745.3 768.3,743.8 767.2,742.0 769.4,742.7 770.1,745.0 769.7,746.9 771.6,748.2 770.5,750.2 772.4,751.5 770.7,753.6 773.8,754.7 772.1,756.8 774.8,758.0 773.1,760.1 775.7,761.3 773.1,763.6 776.0,764.7 774.3,766.9 776.9,768.0 775.9,770.0 774.3,771.8 776.7,773.4 775.4,775.2 777.6,776.9 775.4,778.7 776.8,780.4 775.2,782.2 777.0,783.8 775.6,785.6 777.3,787.3 775.9,789.1 778.1,790.7 775.4,792.5 778.0,794.2 775.9,796.0 778.3,797.6 775.1,799.5 778.7,801.1 776.4,802.9 777.8,804.6 776.5,806.4 778.2,808.0 775.8,809.8 778.5,811.5 776.3,813.3 777.3,815.0 779.4,816.5 776.9,819.0 780.3,820.2 778.0,822.7 780.7,824.0 779.2,826.3 780.2,828.0 779.5,825.9 782.4,824.7 780.8,822.4 783.2,821.1 781.8,818.9 783.9,817.5 782.0,815.1 784.8,813.9 783.5,811.6 784.6,810.0 786.7,808.9 784.0,805.9 789.4,806.1 785.2,802.5 789.5,802.3 786.8,799.2 791.1,799.1 788.7,796.1 793.3,796.0 789.2,792.4 793.9,792.4 791.8,789.6 796.9,789.7 793.1,786.2 794.8,785.0 796.9,784.4 795.3,781.0 800.6,782.7 795.8,777.1 802.6,779.8 799.7,775.5 802.0,775.0 804.0,773.8 802.5,771.5 804.0,770.2 803.4,768.2 805.6,767.0 803.7,764.6 806.7,763.7 804.3,761.2 806.4,760.0 805.0,761.8 808.0,763.5 806.0,765.3 808.5,767.0 805.2,768.9 808.5,770.5 806.5,772.4 808.6,774.0 806.1,775.9 808.5,777.6 806.6,779.5 809.0,781.1 806.1,783.0 809.2,784.6 807.0,786.5 809.3,788.2 808.0,790.0 808.6,788.3 806.7,786.6 808.7,784.9 807.8,783.2 808.9,781.5 807.0,779.8 810.2,778.2 807.4,776.4 809.8,774.7 807.3,773.0 810.2,771.4 806.9,769.5 810.3,768.0 807.9,766.2 809.4,764.5 807.2,762.7 809.8,761.1 807.5,759.4 810.7,757.8 808.4,756.0 809.9,754.3 808.2,752.6 810.9,751.0 807.7,749.1 811.2,747.6 808.6,745.8 810.8,744.1 807.9,742.3 810.6,740.7 808.4,739.0 810.5,737.3 808.2,735.5 810.9,733.9 808.8,732.2 811.3,730.5 809.1,728.8 811.6,727.2 809.1,725.4 811.2,723.7 808.8,722.0 811.6,720.3 808.9,718.6 812.0,717.0 808.9,715.1 811.5,713.5 809.3,711.8 812.2,710.2 810.2,708.4 812.1,706.7 810.8,705.0 809.8,703.2 812.1,701.6 810.6,699.8 812.2,698.1 810.0,696.2 813.3,694.7 810.0,692.7 813.4,691.3 810.4,689.3 813.8,687.8 811.7,685.9 813.9,684.3 811.0,682.3 814.2,680.9 812.9,679.0 815.4,678.5 815.8,681.0 814.5,682.8 817.0,684.4 815.1,686.2 817.7,687.8 815.1,689.7 817.2,691.3 815.3,693.1 817.3,694.7 816.2,696.6 818.6,698.1 815.5,700.1 818.1,701.6 815.9,703.5 818.2,705.1 816.5,706.9 818.7,708.5 817.3,710.3 818.0,712.0 819.1,713.7 816.9,715.5 819.8,717.1 817.7,719.0 819.2,720.6 817.9,722.4 819.2,724.1 817.7,725.9 820.1,727.5 816.9,729.4 819.4,731.0 817.7,732.8 820.0,734.5 817.8,736.3 820.7,737.9 817.3,739.8 819.6,741.4 818.2,743.2 820.4,744.9 818.0,746.7 820.5,748.4 817.9,750.2 820.1,751.8 818.5,753.6 821.2,755.3 819.0,757.1 820.4,758.8 818.5,760.6 820.5,762.2 818.7,764.0 820.6,765.7 819.4,767.5 821.0,769.2 818.7,771.0 821.5,772.6 819.0,774.4 821.7,776.1 819.5,777.9 822.3,779.5 819.3,781.4 821.9,783.0 820.2,784.8 821.6,786.5 819.6,788.3 820.9,790.0 819.5,787.9 822.9,786.7 821.3,784.6 823.7,783.1 821.7,780.9 824.0,779.5 822.4,777.4 823.9,775.8 822.3,773.7 825.1,772.3 823.1,770.1 826.1,768.8 823.8,766.6 825.3,765.0 824.5,766.9 826.5,768.4 824.7,770.4 826.8,771.9 825.4,773.8 827.9,775.3 825.7,777.3 828.2,778.9 825.6,780.9 828.2,782.4 825.8,784.4 828.4,785.9 827.2,787.8 829.4,789.3 826.6,791.4 828.2,793.0 827.0,791.1 830.3,789.7 827.8,787.7 830.0,786.2 827.9,784.2 831.0,782.8 828.7,780.8 831.2,779.3 828.2,777.3 830.9,775.8 829.9,773.9 831.2,772.3 829.4,770.4 831.7,768.9 829.4,766.9 831.9,765.4 829.9,763.4 832.6,762.0 830.2,760.0 833.0,758.6 831.7,756.7 832.5,755.0 831.3,756.9 833.7,758.4 831.3,760.4 834.7,761.8 832.6,763.7 834.6,765.3 832.5,767.2 835.3,768.7 833.2,770.7 835.4,772.2 833.2,774.2 835.8,775.6 833.5,777.6 835.9,779.1 834.1,781.1 836.2,782.6 833.6,784.6 836.7,786.0 835.1,787.9 836.9,789.5 834.6,791.5 837.6,792.9 835.8,794.9 837.6,796.4 835.7,798.4 836.9,800.0 835.7,797.8 838.4,796.4 836.3,794.1 839.9,792.8 838.2,790.5 840.2,789.0 838.3,786.7 839.8,785.0 841.4,783.5 838.7,781.3 841.4,779.9 839.4,777.8 841.7,776.4 839.9,774.4 842.6,773.0 841.6,771.1 843.9,769.7 840.9,767.4 844.2,766.2 841.7,764.0 844.4,762.7 843.0,760.6 845.3,759.3 842.8,757.1 845.4,755.7 843.9,753.7 845.9,752.2 844.6,750.3 847.3,748.9 845.5,746.8 846.7,745.3 845.8,743.3 848.3,742.0 847.1,740.0 845.5,737.1 851.7,738.0 846.8,733.5 853.7,734.7 848.8,730.2 853.0,730.2 852.9,728.0 853.9,729.6 852.7,731.6 854.6,732.9 853.6,734.9 855.6,736.2 853.4,738.5 857.3,739.4 854.6,741.8 857.3,742.9 855.7,745.1 857.6,746.4 856.4,748.4 858.5,749.8 857.1,751.8 860.1,752.9 858.0,755.2 860.7,756.3 858.2,758.7 860.1,760.0 859.0,757.9 862.1,757.0 860.8,754.8 863.6,753.8 861.5,751.4 863.8,750.2 862.2,747.9 865.6,747.1 864.5,745.0 866.7,741.1 868.9,745.0 870.2,743.3 868.8,741.1 870.8,739.5 869.5,737.3 871.4,735.8 869.4,733.4 872.7,732.1 871.8,730.0 871.5,728.2 872.8,726.6 871.7,724.7 874.3,723.3 871.9,721.3 874.5,719.8 872.4,717.8 874.1,716.3 871.8,714.3 874.3,712.8 872.8,710.9 875.3,709.4 873.4,707.4 876.0,706.0 873.1,703.9 875.7,702.4 874.3,700.5 876.4,699.0 874.4,697.1 877.0,695.6 874.4,693.6 876.1,692.0 877.2,694.6 881.2,690.0 880.7,696.4 883.4,695.0 883.1,693.3 884.7,691.7 882.7,689.8 884.7,688.3 882.5,686.4 885.5,684.9 883.3,683.0 885.4,681.5 884.1,679.6 885.7,678.1 883.7,676.2 886.5,674.7 883.9,672.8 885.9,671.2 884.1,669.4 887.1,667.9 884.5,666.0 887.2,664.5 884.6,662.6 886.3,661.0 888.2,659.4 885.3,657.4 887.7,655.8 885.6,653.9 888.4,652.4 885.6,650.4 888.6,648.8 886.4,646.9 888.6,645.3 886.7,643.4 888.8,641.8 887.7,640.0 887.3,638.2 889.0,636.6 886.5,634.7 889.7,633.2 887.0,631.3 889.8,629.7 887.6,627.8 888.8,626.2 887.3,624.3 889.5,622.7 887.7,620.9 890.0,619.3 887.3,617.4 890.5,615.8 888.1,614.0 890.3,612.3 887.8,610.5 890.6,608.9 888.1,607.0 890.5,605.4 887.9,603.5 890.0,601.9 888.1,600.1 890.4,598.5 889.1,596.7 891.3,595.0 888.9,593.2 891.0,591.5 889.6,589.7 890.8,588.0 889.5,586.2 891.0,584.6 889.1,582.8 891.3,581.1 889.7,579.3 891.8,577.7 889.4,575.8 892.5,574.2 889.7,572.4 891.8,570.7 890.5,568.9 892.5,567.3 890.4,565.5 892.9,563.8 890.8,562.0 891.6,560.3 890.2,562.0 892.6,563.7 890.8,565.4 892.4,567.1 890.2,568.8 892.8,570.5 890.5,572.3 893.3,573.9 891.3,575.7 892.9,577.4 890.9,579.1 892.6,580.8 890.2,582.5 892.6,584.2 890.8,585.9 892.9,587.6 891.2,589.3 892.8,591.0 891.5,592.7 893.1,594.4 890.6,596.2 893.8,597.8 890.2,599.6 892.9,601.3 890.3,603.0 892.6,604.7 891.4,606.4 893.2,608.1 890.7,609.8 893.3,611.5 891.6,613.2 893.1,614.9 891.0,616.6 893.1,618.3 890.7,620.1 893.6,621.7 891.6,623.5 893.3,625.1 890.8,626.9 893.8,628.6 890.9,630.3 894.1,632.0 890.8,633.7 893.3,635.4 890.8,637.1 893.6,638.8 891.1,640.5 893.6,642.2 890.9,643.9 893.8,645.6 891.4,647.4 894.0,649.0 891.4,650.8 893.9,652.5 890.8,654.2 893.7,655.9 891.9,657.6 894.2,659.3 891.8,661.0 893.3,662.7 892.1,664.4 893.6,666.1 891.6,667.8 894.2,669.5 892.0,671.3 893.6,672.9 891.2,674.7 893.2,676.4 891.7,678.1 893.4,679.8 891.3,681.5 893.6,683.2 892.1,684.9 893.4,686.6 892.1,688.3 894.2,690.0 892.2,691.7 893.4,693.4 892.1,695.1 893.4,696.8 891.5,698.6 894.4,700.2 891.8,702.0 893.9,703.7 892.5,705.4 894.4,707.1 892.2,708.8 894.2,710.5 891.3,712.2 893.8,713.9 891.7,715.6 894.1,717.3 891.9,719.0 894.1,720.7 891.7,722.5 894.3,724.1 892.7,725.9 894.7,727.6 892.4,729.3 894.1,731.0 892.1,732.7 894.5,734.4 891.8,736.1 893.9,737.8 892.3,739.5 894.6,741.2 892.3,742.9 894.1,744.6 891.8,746.4 895.1,748.0 892.1,749.8 894.6,751.5 892.8,753.2 894.5,754.9 892.0,756.6 894.4,758.3 893.5,760.0 892.5,761.7 894.6,763.4 892.7,765.1 894.9,766.8 892.8,768.6 895.4,770.2 892.1,772.0 894.6,773.7 893.3,775.4 894.3,777.1 892.3,778.8 894.9,780.5 893.3,782.2 894.5,783.9 892.5,785.7 894.7,787.3 892.4,789.1 895.0,790.8 892.8,792.5 895.1,794.2 892.8,795.9 894.8,797.6 893.4,799.3 894.9,801.0 893.8,802.8 895.5,804.4 892.6,806.2 894.9,807.9 892.8,809.6 895.3,811.3 894.5,813.0 893.9,814.8 895.1,816.4 893.8,818.2 895.3,819.9 893.7,821.7 896.0,823.4 894.3,825.2 896.7,826.8 893.9,828.6 896.6,830.3 894.5,832.1 896.7,833.7 894.0,835.6 896.9,837.2 894.8,839.0 897.3,840.7 894.6,842.5 896.3,844.2 894.1,846.0 896.7,847.6 894.2,849.5 896.7,851.1 895.5,852.9 897.2,854.6 895.0,856.4 897.6,858.0 895.0,859.9 897.3,861.5 895.0,863.3 896.5,865.0 895.7,862.9 897.8,861.4 896.2,859.2 898.7,857.7 896.9,855.4 899.0,853.9 897.9,851.7 899.0,850.0 898.6,851.9 901.1,853.2 899.8,855.4 901.6,856.8 900.1,859.0 903.1,860.1 901.3,862.4 902.3,864.0 901.5,862.1 904.5,860.8 902.3,858.6 905.4,857.4 903.2,855.2 905.4,853.9 903.8,851.7 905.8,850.3 904.8,848.4 907.1,847.0 906.0,845.0 907.7,846.4 905.4,848.9 908.4,849.9 907.1,852.1 909.6,853.3 907.1,855.8 910.3,856.8 908.9,859.0 911.2,860.3 909.0,862.7 911.0,864.0" fill="none" stroke="#575757" stroke-width="3.5" stroke-linejoin="round" stroke-linecap="round" filter="url(#bl)"/>
<polyline points="101.4,1311.3 102.1,1309.2 105.4,1310.5 104.7,1306.8 108.3,1308.3 107.2,1304.1 110.4,1305.2 110.9,1302.8 114.3,1304.2 113.4,1300.2 115.6,1300.0 115.5,1302.0 117.8,1303.5 116.3,1305.8 118.5,1307.3 117.2,1309.6 118.4,1311.3 120.6,1309.8 121.5,1313.2 124.0,1310.8 124.4,1315.6 127.2,1311.9 127.8,1316.3 130.6,1312.6 131.5,1315.9 134.0,1313.4 134.5,1317.9 137.1,1315.2 138.4,1317.0 140.4,1317.0 140.7,1313.3 144.0,1316.4 144.2,1312.1 147.7,1315.8 147.5,1310.7 151.0,1314.5 151.1,1309.9 154.3,1312.8 154.3,1308.4 157.7,1311.7 158.3,1308.5 161.4,1308.5 159.4,1311.8 162.0,1312.2 161.1,1314.8 165.3,1314.1 164.0,1317.0 166.4,1316.9 165.0,1313.1 168.6,1314.3 167.6,1310.9 171.1,1312.0 170.3,1308.7 173.9,1309.9 172.4,1305.9 176.8,1307.9 174.6,1303.3 179.2,1305.5 176.8,1300.7 181.8,1303.2 181.0,1300.0 183.7,1300.7 181.7,1303.7 185.7,1303.7 181.8,1307.7 187.4,1306.9 184.2,1310.5 186.7,1311.3 188.8,1309.4 189.9,1313.0 192.2,1309.8 193.2,1314.3 195.5,1311.5 196.8,1313.9 199.1,1310.9 199.9,1316.4 202.2,1313.0 203.8,1314.2 205.9,1316.3 207.0,1312.1 209.1,1314.3 210.4,1311.7 212.7,1315.0 213.6,1310.0 215.9,1313.0 217.1,1309.9 219.3,1312.4 220.9,1311.3 221.3,1308.5 224.7,1310.8 224.2,1306.5 228.4,1310.2 227.7,1305.4 231.5,1308.5 230.9,1304.0 233.6,1305.1 233.7,1301.8 236.6,1303.3 237.2,1300.8 240.0,1302.2 240.8,1300.0 243.4,1300.2 242.1,1303.4 244.6,1303.8 243.0,1307.2 247.2,1306.2 245.0,1310.1 250.3,1308.3 249.3,1311.3 251.6,1310.8 250.1,1307.5 254.0,1308.1 252.0,1304.4 256.2,1305.4 254.3,1301.7 258.4,1302.6 257.9,1300.0 260.1,1297.6 261.3,1302.3 263.6,1299.2 264.8,1303.2 267.1,1300.1 268.6,1302.8 270.9,1299.1 272.1,1303.8 274.4,1300.5 275.9,1303.3 277.8,1302.8 280.0,1303.7 277.7,1306.9 280.9,1307.4 279.3,1310.2 283.7,1310.0 281.9,1312.9 283.5,1314.2 284.9,1311.9 287.2,1315.3 288.2,1311.2 290.5,1314.5 291.6,1310.6 294.1,1314.7 295.3,1311.4 297.2,1312.7 298.4,1309.5 300.5,1311.3 300.7,1314.6 304.3,1312.1 304.4,1315.6 307.8,1313.4 307.7,1317.2 310.8,1315.7 310.9,1319.1 314.0,1317.6 314.8,1319.8 317.4,1319.6 315.9,1316.2 319.2,1316.5 317.2,1312.8 320.7,1313.2 319.7,1310.2 324.0,1311.3 323.3,1308.5 324.9,1306.9 326.9,1309.2 328.2,1305.5 330.4,1308.8 331.9,1306.3 334.0,1308.8 335.2,1304.8 337.4,1307.6 338.8,1305.1 340.9,1307.7 342.2,1303.6 344.5,1307.4 346.0,1305.6 347.5,1307.2 346.3,1309.2 347.7,1310.8 346.5,1312.9 348.9,1314.2 347.4,1316.4 349.1,1317.9 348.9,1319.8 350.7,1320.8 352.7,1318.1 354.4,1321.1 356.4,1317.7 358.1,1322.6 360.0,1320.2 361.7,1318.9 363.7,1321.1 365.1,1317.3 367.3,1321.5 368.6,1316.9 370.8,1320.5 372.3,1318.0 374.3,1320.1 375.7,1316.1 377.7,1318.4 378.4,1316.7 377.2,1314.8 378.7,1313.1 377.2,1311.3 378.8,1309.6 376.9,1307.7 378.7,1306.0 378.0,1304.2 379.7,1302.5 377.2,1300.6 379.9,1298.9 378.6,1297.1 378.2,1295.2 380.7,1293.9 378.6,1291.5 380.7,1290.2 379.5,1288.0 382.2,1286.8 380.4,1284.5 382.6,1283.2 382.2,1281.2 381.6,1279.5 383.0,1277.8 381.8,1276.0 382.8,1274.3 381.5,1272.5 383.1,1270.9 381.4,1269.1 383.0,1267.4 381.4,1265.6 383.7,1264.0 381.4,1262.2 384.0,1260.5 381.6,1258.7 383.8,1257.1 382.6,1255.3 384.0,1253.6 382.5,1251.9 383.7,1250.2 382.1,1248.4 384.0,1246.7 382.4,1245.0 384.5,1243.3 382.3,1241.5 384.0,1239.8 382.8,1238.1 384.6,1236.4 382.7,1234.6 384.7,1232.9 382.9,1231.2 384.2,1229.5 382.8,1227.7 384.9,1226.0 383.2,1224.3 384.9,1222.6 382.6,1220.8 383.9,1219.1 386.8,1220.6 387.5,1217.4 388.7,1219.1 387.3,1220.8 388.6,1222.5 386.5,1224.3 388.2,1226.0 387.2,1227.7 388.5,1229.4 387.1,1231.2 388.7,1232.8 387.2,1234.6 389.2,1236.2 387.8,1238.0 388.6,1239.7 387.8,1241.4 388.8,1243.1 387.9,1244.9 389.7,1246.5 387.3,1248.3 388.9,1250.0 387.7,1251.7 389.3,1253.4 388.0,1255.2 389.4,1256.8 387.8,1258.6 389.8,1260.3 388.2,1262.0 389.5,1263.7 388.3,1265.5 389.5,1267.1 388.2,1268.9 390.2,1270.6 389.2,1272.3 390.2,1270.7 389.5,1268.7 390.7,1267.1 389.8,1265.1 391.8,1263.6 390.1,1261.4 392.3,1260.0 391.9,1258.1 393.2,1259.8 391.2,1261.7 393.0,1263.4 391.7,1265.2 393.4,1266.9 391.6,1268.8 393.5,1270.5 391.8,1272.4 393.8,1274.0 392.5,1275.9 394.1,1277.5 392.3,1279.4 393.9,1281.1 392.9,1283.0 394.5,1284.6 392.6,1286.5 395.3,1288.1 393.4,1290.1 395.5,1291.7 393.2,1293.6 395.1,1295.3 394.6,1297.1 394.3,1299.9 397.8,1300.1 398.1,1302.5 399.5,1300.9 397.6,1298.8 400.0,1297.3 397.9,1295.3 400.3,1293.8 398.5,1291.7 400.7,1290.2 399.6,1288.3 401.2,1286.7 400.2,1284.7 401.2,1283.1 399.9,1281.1 401.6,1279.5 401.0,1277.6 401.7,1275.9 402.1,1274.2 400.4,1272.5 402.2,1270.7 401.3,1269.0 402.8,1267.3 401.2,1265.6 402.8,1263.8 400.6,1262.1 402.8,1260.4 400.3,1258.7 402.5,1256.9 400.4,1255.2 401.9,1253.5 400.4,1251.8 402.4,1250.1 400.4,1248.3 401.9,1246.6 400.4,1244.9 402.7,1243.2 401.0,1241.4 402.1,1239.7 400.5,1238.0 402.6,1236.3 400.8,1234.6 401.9,1232.8 400.8,1231.1 402.3,1229.4 400.2,1227.7 402.1,1225.9 400.6,1224.2 402.0,1222.5 400.6,1220.8 402.0,1219.0 400.8,1217.3 402.1,1215.6 399.9,1213.9 402.0,1212.1 400.1,1210.4 401.7,1208.7 400.1,1207.0 402.3,1205.3 400.1,1203.5 402.0,1201.8 400.3,1200.1 402.1,1198.4 399.9,1196.7 401.6,1194.9 400.6,1193.2 402.2,1191.5 399.8,1189.8 401.9,1188.0 400.2,1186.3 402.1,1184.6 400.5,1182.9 401.6,1181.1 400.4,1179.4 401.9,1177.7 400.3,1176.0 401.5,1174.2 399.9,1172.5 402.2,1170.8 400.3,1169.1 401.9,1167.4 400.1,1165.6 402.1,1163.9 399.9,1162.2 401.4,1160.5 400.3,1158.7 401.2,1157.0 400.8,1155.3 400.1,1153.5 401.9,1151.8 400.8,1149.9 402.2,1148.3 401.0,1146.4 402.9,1144.8 401.5,1142.9 403.5,1141.3 401.5,1139.3 403.4,1137.7 401.8,1135.7 404.0,1134.2 401.8,1132.2 404.0,1130.6 402.5,1128.7 404.5,1127.1 402.4,1125.1 404.5,1123.5 402.9,1121.5 405.4,1120.0 404.3,1118.1 403.6,1116.3 405.1,1114.6 404.1,1112.7 405.9,1111.1 403.9,1109.2 406.4,1107.6 404.0,1105.6 405.9,1104.0 404.9,1102.1 406.2,1100.4 405.2,1098.6 406.9,1096.9 404.8,1095.0 406.1,1093.3 407.6,1091.7 406.0,1089.7 408.1,1088.2 406.5,1086.1 408.1,1084.5 406.5,1082.5 408.3,1081.0 407.7,1079.1 409.5,1077.5 408.0,1075.5 409.5,1073.9 408.2,1071.9 410.4,1070.4 409.6,1068.5 409.4,1066.8 410.5,1065.1 409.2,1063.3 410.9,1061.7 409.7,1059.9 411.3,1058.3 409.2,1056.4 411.4,1054.9 409.9,1053.0 411.3,1051.4 410.4,1049.6 412.2,1048.0 410.8,1046.2 412.6,1044.6 410.3,1042.7 412.1,1041.2 410.5,1039.3 412.6,1037.8 410.9,1035.9 413.3,1034.4 411.7,1032.5 413.4,1030.9 411.6,1029.1 413.8,1027.5 412.2,1025.7 414.0,1024.1 411.8,1022.2 413.2,1020.6 412.2,1022.3 414.1,1024.0 412.8,1025.7 414.2,1027.4 412.7,1029.2 414.5,1030.8 412.4,1032.6 414.4,1034.3 413.0,1036.0 414.5,1037.7 412.6,1039.4 414.1,1041.1 412.4,1042.8 414.6,1044.5 413.2,1046.2 415.0,1047.9 413.3,1049.7 414.4,1051.3 412.7,1053.1 414.8,1054.8 413.0,1056.5 414.9,1058.2 413.1,1059.9 414.6,1061.6 413.5,1063.3 414.4,1065.0 413.0,1066.8 415.2,1068.4 413.2,1070.2 415.2,1071.8 413.5,1073.6 414.8,1075.3 413.5,1077.0 415.5,1078.7 413.9,1080.4 415.2,1082.1 413.8,1083.8 415.5,1085.5 413.7,1087.2 415.1,1088.9 413.8,1090.7 415.4,1092.3 413.4,1094.1 415.3,1095.8 413.4,1097.5 415.1,1099.2 414.1,1100.9 415.2,1102.6 414.3,1104.3 415.9,1106.0 413.7,1107.8 415.4,1109.4 414.4,1111.2 415.7,1112.8 413.9,1114.6 416.1,1116.3 413.9,1118.0 416.0,1119.7 414.6,1121.4 415.8,1123.1 414.6,1124.8 416.0,1126.5 414.3,1128.3 415.8,1129.9 414.7,1131.7 416.4,1133.3 415.0,1135.1 416.5,1136.8 414.1,1138.5 416.7,1140.2 414.7,1141.9 416.4,1143.6 414.6,1145.3 416.5,1147.0 414.3,1148.8 416.6,1150.4 415.0,1152.2 416.9,1153.8 414.9,1155.6 416.7,1157.3 414.7,1159.0 415.8,1160.7 416.2,1162.4 414.8,1164.1 416.9,1165.8 415.1,1167.5 416.8,1169.2 415.2,1170.9 416.6,1172.6 415.2,1174.3 416.5,1176.0 415.3,1177.8 417.2,1179.4 415.4,1181.2 417.2,1182.8 415.0,1184.6 417.6,1186.2 415.9,1188.0 417.5,1189.6 415.5,1191.4 416.8,1193.1 415.8,1194.8 417.1,1196.5 416.1,1198.2 417.5,1199.9 415.4,1201.6 417.3,1203.3 416.7,1205.0 418.1,1203.4 415.9,1201.5 417.6,1199.9 416.1,1198.1 418.3,1196.6 416.3,1194.7 418.7,1193.2 416.7,1191.3 418.6,1189.7 416.9,1187.9 419.5,1186.4 417.2,1184.5 419.3,1182.9 417.5,1181.1 419.6,1179.5 418.5,1177.7 419.4,1176.1 418.8,1174.3 419.9,1172.7 419.0,1170.9 420.4,1169.3 418.7,1167.4 420.8,1165.9 419.3,1164.0 421.2,1162.5 420.3,1160.7 421.0,1162.4 419.5,1164.1 421.4,1165.9 419.6,1167.6 420.9,1169.3 419.1,1171.0 421.4,1172.7 419.7,1174.5 421.1,1176.2 419.5,1177.9 421.4,1179.6 419.9,1181.3 420.8,1183.0 419.9,1184.8 421.6,1186.5 420.0,1188.2 421.3,1189.9 420.0,1191.7 421.1,1193.4 420.0,1195.1 421.3,1196.8 420.1,1198.5 420.9,1200.2 420.1,1202.0 421.1,1203.7 419.8,1205.4 421.0,1207.1 420.3,1208.8 421.4,1210.6 419.9,1212.3 421.7,1214.0 420.3,1215.7 421.4,1217.4 420.0,1219.2 421.1,1220.9 419.4,1222.6 421.3,1224.3 420.3,1226.0 421.6,1227.8 420.3,1229.5 421.8,1231.2 420.1,1232.9 421.3,1234.6 420.4,1236.4 421.9,1238.1 420.2,1239.8 422.0,1241.5 420.1,1243.2 422.2,1244.9 420.3,1246.7 421.5,1248.4 420.3,1250.1 422.1,1251.8 420.0,1253.6 421.6,1255.3 420.5,1257.0 422.0,1258.7 419.7,1260.4 421.9,1262.1 420.7,1263.9 421.4,1265.6 420.6,1267.3 421.6,1269.0 420.7,1270.7 421.5,1272.5 420.1,1274.2 421.1,1275.9 422.6,1277.5 421.1,1279.5 423.2,1281.0 421.3,1283.1 423.5,1284.6 421.3,1286.7 424.1,1288.1 422.7,1290.1 424.0,1291.8 422.7,1293.8 425.1,1295.2 423.7,1297.2 425.0,1298.9 423.4,1300.9 425.3,1302.4 424.4,1304.4 426.0,1305.9 425.6,1307.8 426.7,1306.2 424.5,1304.3 426.4,1302.7 424.9,1300.9 427.2,1299.3 425.0,1297.5 427.2,1295.9 425.2,1294.1 427.2,1292.5 425.9,1290.7 427.3,1289.1 425.7,1287.3 427.8,1285.7 426.4,1283.9 427.7,1282.3 426.2,1280.5 428.3,1278.9 426.4,1277.1 428.3,1275.5 426.9,1273.7 428.3,1272.0 426.8,1270.2 428.4,1268.6 427.3,1266.9 428.2,1265.2 427.5,1267.2 430.0,1268.5 428.9,1270.6 430.3,1272.2 428.9,1274.3 431.4,1275.6 429.6,1277.9 432.4,1279.1 430.8,1281.3 433.2,1282.7 431.2,1285.0 432.7,1286.5 431.9,1284.2 435.6,1283.5 433.8,1280.8 437.0,1280.0 433.1,1276.5 437.7,1276.2 435.3,1273.3 438.0,1272.3 440.1,1271.9 440.3,1269.2 443.9,1270.6 443.0,1266.5 445.9,1267.1 446.8,1265.2 447.8,1266.8 446.9,1269.0 449.4,1270.2 448.6,1272.4 450.1,1273.9 448.7,1276.2 451.2,1277.4 450.2,1279.6 452.4,1280.9 452.2,1282.9 451.3,1284.8 453.7,1286.3 451.8,1288.4 454.1,1289.9 452.9,1291.9 454.2,1293.5 453.5,1295.4 455.4,1297.0 454.0,1299.0 455.1,1300.6 453.6,1302.7 455.8,1304.2 454.1,1306.2 455.7,1307.8 457.1,1306.2 459.8,1308.4 460.6,1304.7 463.7,1308.0 463.8,1302.6 466.3,1304.2 469.4,1304.4 467.3,1299.5 472.6,1302.0 470.8,1297.4 473.4,1297.1 476.1,1298.2 475.8,1293.7 478.8,1295.4 480.0,1293.6 480.9,1290.4 483.9,1294.9 484.3,1289.6 487.0,1293.1 488.3,1291.4 488.1,1288.7 492.1,1290.3 490.2,1285.9 494.0,1287.1 493.4,1284.0 497.2,1285.3 496.3,1282.0 499.8,1283.0 497.7,1278.4 502.0,1280.2 500.3,1276.1 504.8,1278.1 503.5,1274.3 506.9,1275.1 504.7,1270.5 508.2,1271.5 507.3,1273.7 511.1,1274.2 509.1,1276.8 511.8,1277.6 510.1,1280.1 514.7,1280.3 510.0,1283.9 515.7,1283.7 510.6,1287.4 516.3,1287.2 511.9,1290.7 517.4,1290.6 514.3,1293.5 519.5,1293.5 514.4,1297.2 520.7,1296.8 516.6,1300.2 521.5,1300.2 519.6,1302.8 522.1,1302.6 519.3,1298.1 525.2,1300.8 522.8,1296.6 527.4,1298.2 525.2,1294.1 528.0,1294.3 526.4,1290.7 530.6,1291.9 528.9,1288.3 533.4,1289.8 532.0,1286.4 533.8,1285.7 532.6,1288.6 536.9,1287.7 535.1,1291.0 539.0,1290.5 536.4,1294.3 541.7,1292.8 539.2,1296.5 542.3,1296.5 541.1,1299.4 544.8,1299.0 543.4,1301.9 545.2,1302.8 546.4,1301.0 549.6,1303.8 549.3,1298.4 551.9,1300.0 553.6,1298.5 551.1,1296.2 554.1,1294.9 552.3,1292.8 553.9,1291.2 553.0,1289.2 554.8,1287.7 553.3,1285.6 555.5,1284.1 554.1,1282.1 556.4,1280.6 554.8,1278.5 556.6,1277.0 554.7,1274.9 556.3,1273.3 554.4,1276.0 559.0,1276.0 557.0,1278.7 561.5,1278.7 558.9,1281.7 561.4,1282.6 559.1,1285.4 563.6,1285.4 561.2,1288.3 563.9,1289.1 563.7,1291.1 564.5,1289.5 563.0,1287.5 565.3,1286.1 563.3,1284.0 566.1,1282.7 563.7,1280.6 565.8,1279.1 565.1,1277.2 566.2,1275.6 565.3,1273.8 567.0,1272.3 566.2,1270.4 567.7,1268.8 566.6,1266.9 568.0,1265.4 566.9,1263.5 569.0,1262.0 567.2,1260.0 568.9,1258.5 568.1,1256.6 569.5,1255.0 567.9,1253.1 570.3,1251.6 568.1,1249.6 570.9,1248.2 569.3,1246.2 570.6,1244.7 569.2,1242.7 571.8,1241.3 570.0,1239.3 571.1,1237.7 574.3,1238.2 571.7,1233.7 575.6,1234.8 574.6,1231.8 577.3,1231.8 576.0,1228.4 581.1,1230.6 580.0,1227.4 581.8,1228.9 580.2,1231.3 582.5,1232.5 580.7,1235.0 583.7,1236.1 582.0,1238.5 584.3,1239.9 583.1,1242.1 584.5,1243.7 586.6,1244.1 586.2,1247.1 590.0,1245.8 587.3,1251.0 592.4,1248.6 590.9,1252.6 593.4,1252.6 593.0,1250.2 596.9,1250.7 594.1,1246.6 598.9,1247.7 595.7,1243.5 599.3,1243.7 599.2,1245.8 602.4,1245.9 600.2,1249.2 604.4,1248.7 601.3,1252.6 607.0,1251.1 602.9,1255.6 608.4,1254.4 606.6,1257.5 608.2,1258.5 611.1,1258.7 608.7,1262.7 613.1,1261.8 611.5,1265.3 615.8,1264.4 612.5,1269.2 616.8,1268.3 617.1,1270.4 616.2,1272.2 618.2,1273.8 616.8,1275.7 619.2,1277.2 616.6,1279.2 619.3,1280.7 617.8,1282.6 619.9,1284.1 618.2,1286.0 619.7,1287.6 617.9,1289.6 620.0,1291.1 618.9,1292.9 621.1,1294.5 618.5,1296.5 620.7,1298.0 619.6,1299.9 621.1,1301.5 620.2,1303.3 621.4,1304.9 619.8,1306.8 621.6,1308.4 620.9,1310.2 621.6,1311.9 621.6,1310.0 622.9,1308.4 622.1,1306.4 624.3,1305.0 622.7,1302.7 625.1,1301.4 623.6,1299.2 625.4,1297.7 625.0,1295.7 626.0,1294.1 627.0,1297.2 629.6,1294.1 630.8,1296.6 633.2,1294.2 634.2,1297.5 636.7,1294.9 637.9,1297.1 638.6,1298.9 641.2,1298.7 639.7,1302.7 643.5,1301.3 642.2,1305.1 646.1,1303.7 644.6,1307.7 649.3,1305.5 647.5,1309.7 650.9,1308.7 650.9,1311.2 652.7,1311.9 653.3,1309.0 656.4,1311.2 657.1,1308.5 660.3,1310.8 659.7,1305.6 662.8,1307.8 662.8,1303.8 666.5,1307.1 666.6,1303.3 669.3,1304.6 670.5,1303.0 672.6,1304.1 669.3,1307.3 673.7,1307.4 672.3,1309.9 674.8,1310.8 673.6,1313.2 676.5,1314.0 673.4,1317.1 676.5,1317.8 677.5,1316.1 680.1,1316.8 679.5,1312.7 683.9,1316.4 682.4,1310.7 686.0,1313.1 686.1,1309.9 689.8,1312.5 688.9,1307.8 692.5,1310.1 692.0,1306.2 694.6,1307.0 695.0,1304.3 697.2,1304.5 697.2,1307.3 701.3,1304.7 700.2,1309.1 703.7,1307.3 703.0,1311.1 706.4,1309.3 705.7,1313.1 709.6,1310.7 708.9,1314.6 712.1,1313.2 710.7,1317.9 715.1,1314.8 715.0,1317.8 716.6,1319.0 718.8,1315.4 720.0,1320.8 722.1,1317.5 723.6,1319.9 725.6,1317.7 727.1,1319.8 729.3,1316.5 730.6,1320.9 732.7,1317.0 734.1,1320.7 736.0,1319.2 737.5,1322.6 739.7,1317.9 740.9,1323.2 743.2,1318.5 744.7,1320.8 747.1,1321.6 746.8,1317.2 749.8,1319.2 750.2,1316.0 753.3,1318.3 753.7,1315.1 756.6,1317.0 756.7,1313.2 759.7,1315.2 759.8,1311.5 762.7,1313.3 763.0,1310.0 766.1,1312.2 765.6,1307.2 768.4,1308.9 767.2,1311.9 772.5,1310.5 769.3,1314.7 773.4,1314.1 771.1,1317.9 775.4,1317.1 774.5,1319.9 777.8,1319.8 777.3,1322.3 780.1,1322.7 779.0,1318.8 782.7,1320.2 781.8,1316.5 785.9,1318.2 784.3,1313.8 787.9,1315.0 786.8,1311.2 791.1,1313.2 788.9,1308.1 792.1,1308.9 791.6,1311.4 795.4,1311.0 793.4,1314.5 796.8,1314.4 795.7,1317.2 800.1,1316.5 797.1,1320.6 800.7,1320.4 801.0,1322.3 804.0,1322.1 801.5,1318.6 806.0,1319.3 803.2,1315.6 806.4,1315.5 804.7,1312.5 809.3,1313.2 806.6,1309.6 811.1,1310.2 807.9,1306.4 811.9,1306.7 810.4,1303.8 813.9,1303.9 811.9,1300.8 815.4,1300.8 813.2,1297.5 815.9,1297.1 816.0,1300.2 819.9,1297.3 819.8,1300.7 822.4,1299.8 822.5,1303.0 825.8,1301.0 825.7,1304.4 827.7,1304.5 828.4,1302.7 831.2,1303.2 830.8,1300.1 833.5,1300.5 833.1,1297.3 837.4,1299.6 835.8,1295.0 839.8,1296.9 839.6,1294.1 842.6,1293.6 840.4,1298.4 845.3,1296.1 843.5,1300.3 847.5,1298.9 846.6,1302.4 848.5,1303.0 850.3,1300.5 852.1,1304.5 853.8,1301.3 855.6,1305.6 857.4,1301.7 859.2,1304.1 861.0,1300.6 862.7,1305.0 864.5,1302.1 866.3,1303.0 868.1,1302.5 868.2,1299.7 870.9,1300.4 870.3,1296.8 873.9,1298.6 873.8,1295.6 876.9,1296.8 876.2,1293.1 879.7,1294.8 878.9,1290.8 882.7,1293.0 881.9,1289.0 884.8,1290.0 885.6,1288.2 888.8,1288.7 885.0,1292.2 888.5,1292.6 886.8,1295.2 891.1,1295.3 887.2,1298.9 891.2,1299.0 890.4,1301.2 893.3,1301.9 891.0,1304.7 895.5,1304.7 891.6,1308.3 894.5,1308.9 894.4,1306.7 897.8,1307.1 896.0,1303.6 900.6,1305.0 898.7,1301.4 901.9,1301.6 901.0,1298.8 904.3,1299.2 903.1,1296.1 906.9,1296.8 904.3,1292.8 908.3,1293.6 907.8,1291.1 909.8,1291.3 910.2,1293.9 913.2,1292.4 912.6,1296.9 916.4,1294.1 916.3,1297.7 919.9,1295.1 920.0,1298.4 919.6,1301.2 923.8,1300.1 922.7,1303.4 925.8,1303.2 924.0,1307.1 927.9,1306.2 927.0,1309.5 929.6,1309.7 929.7,1307.1 933.2,1308.7 932.2,1304.6 936.6,1307.4 934.8,1302.3 937.7,1303.2 939.1,1301.7 937.9,1299.6 939.2,1298.1 938.5,1296.2 940.1,1294.7 939.4,1292.8 941.5,1291.4 940.1,1289.3 942.2,1287.9 940.1,1285.7 942.2,1284.3 940.9,1282.3 942.5,1280.8 944.7,1282.0 945.8,1278.8 948.2,1280.7 949.7,1279.2 950.3,1280.9 949.2,1282.8 951.0,1284.5 949.2,1286.4 951.8,1288.0 950.4,1289.9 951.7,1291.6 950.4,1293.5 951.3,1295.2 950.9,1293.5 952.1,1291.8 950.9,1290.0 952.7,1288.4 951.0,1286.6 952.2,1285.0 951.3,1283.2 952.7,1281.6 951.1,1279.8 952.7,1278.1 951.1,1276.3 952.8,1274.7 951.3,1272.9 953.4,1271.3 952.0,1269.5 953.7,1267.9 951.9,1266.1 953.6,1264.5 951.9,1262.7 953.9,1261.0 952.2,1259.3 953.5,1257.6 952.0,1255.8 954.4,1254.2 952.5,1252.4 954.3,1250.8 952.9,1249.0 954.8,1247.4 952.6,1245.6 953.7,1243.9 954.8,1242.5 953.7,1240.3 956.6,1239.5 955.2,1237.2 957.6,1236.2 956.9,1234.2 957.9,1235.8 956.7,1237.7 958.4,1239.2 956.8,1241.1 958.7,1242.6 956.9,1244.5 958.4,1246.1 957.2,1247.9 959.4,1249.5 957.6,1251.3 959.4,1252.9 957.5,1254.8 959.6,1256.3 958.2,1258.2 960.1,1259.7 959.3,1261.5 958.4,1263.4 960.3,1264.9 959.6,1266.7 961.3,1268.2 959.6,1270.2 961.3,1271.7 959.7,1273.7 962.4,1275.1 960.5,1277.1 962.9,1278.5 960.6,1280.6 963.1,1282.0 961.6,1284.0 962.5,1285.6 962.3,1283.9 963.7,1282.2 961.7,1280.4 963.6,1278.8 962.2,1277.0 964.0,1275.4 962.7,1273.6 964.4,1272.0 962.6,1270.1 964.3,1268.5 963.2,1266.7 964.7,1265.1 963.2,1263.3 965.1,1261.7 964.1,1259.9 965.8,1261.1 964.0,1263.7 967.2,1264.2 965.3,1267.0 969.4,1267.1 968.2,1269.5 968.6,1267.8 967.8,1266.1 969.0,1264.4 967.7,1262.7 969.0,1261.0 967.7,1259.3 968.6,1257.6 967.3,1255.9 969.5,1254.2 967.0,1252.5 969.1,1250.8 967.5,1249.1 968.6,1247.4 967.6,1245.7 968.9,1244.0 966.9,1242.3 968.7,1240.6 966.9,1238.9 969.0,1237.2 967.4,1235.5 968.8,1233.8 966.9,1232.1 968.7,1230.4 967.3,1228.7 969.1,1227.0 967.7,1225.3 968.8,1223.6 966.9,1221.9 969.3,1220.2 967.1,1218.5 969.5,1216.8 967.8,1215.1 969.2,1213.4 967.1,1211.7 968.8,1210.0 967.4,1208.3 969.5,1206.6 967.5,1204.9 969.3,1203.2 967.7,1201.5 969.2,1199.8 967.6,1198.1 969.1,1196.4 967.5,1194.7 969.4,1193.0 967.1,1191.3 969.0,1189.6 967.2,1187.9 969.0,1186.2 968.2,1184.5 968.0,1181.1 971.4,1181.2 972.1,1179.5 970.7,1177.6 972.6,1176.0 971.0,1174.1 972.2,1172.4 971.3,1170.6 972.9,1168.9 971.5,1167.1 973.2,1165.4 971.3,1163.6 973.5,1161.9 971.1,1160.1 973.5,1158.4 971.8,1156.6 972.9,1154.9 971.7,1153.0 973.8,1151.4 971.5,1149.5 973.4,1147.8 972.4,1146.0 973.0,1144.3 974.5,1142.7 972.3,1140.7 974.4,1139.2 972.7,1137.3 974.4,1135.7 973.2,1133.9 975.3,1132.3 973.5,1130.4 975.2,1128.8 974.4,1127.0 976.0,1125.4 974.0,1123.5 975.4,1121.9 975.0,1123.7 975.9,1125.3 975.3,1127.1 976.9,1128.8 975.1,1130.6 976.8,1132.2 974.7,1134.1 977.1,1135.7 975.7,1137.5 977.4,1139.2 976.1,1141.0 977.2,1142.6 975.6,1144.5 977.3,1146.1 976.5,1147.9 977.8,1149.6 976.4,1151.4 978.4,1153.0 976.8,1154.8 978.5,1156.5 976.7,1158.3 978.7,1159.9 976.8,1161.8 978.7,1163.4 977.8,1165.2 978.5,1163.5 977.4,1161.7 978.8,1160.1 977.0,1158.2 978.9,1156.6 977.7,1154.8 979.1,1153.1 978.0,1151.4 979.2,1149.7 977.7,1147.9 979.6,1146.2 977.8,1144.4 979.5,1142.8 978.6,1141.0 979.4,1139.3 978.4,1137.5 979.7,1135.8 978.4,1134.0 980.0,1132.4 978.3,1130.6 980.5,1129.0 978.6,1127.1 980.8,1125.5 978.9,1123.7 980.6,1122.0 979.3,1120.2 980.4,1118.6 979.0,1116.8 981.0,1115.1 979.8,1113.3 981.6,1111.7 979.5,1109.9 981.5,1108.2 979.8,1106.4 981.1,1104.7 979.4,1102.9 981.3,1101.3 980.2,1099.5 981.0,1097.8 982.6,1096.3 981.1,1094.3 982.7,1092.8 981.4,1090.8 983.1,1089.4 981.5,1087.3 983.8,1086.0 983.1,1084.1 984.5,1082.6 983.7,1080.7 985.3,1079.2 983.4,1077.1 986.1,1075.8 984.8,1073.8 986.5,1072.4 985.8,1070.5 985.6,1068.6 987.5,1067.1 986.5,1065.0 988.2,1063.5 987.6,1061.4 989.4,1060.0 988.5,1057.9 990.6,1056.5 989.8,1054.4 990.2,1056.1 988.6,1057.9 990.5,1059.5 989.6,1061.2 991.1,1062.9 989.2,1064.7 991.3,1066.3 989.3,1068.1 991.2,1069.7 989.9,1071.5 991.4,1073.1 989.5,1074.9 991.8,1076.5 990.2,1078.3 991.0,1080.0 989.6,1081.7 991.9,1083.4 989.9,1085.1 991.8,1086.8 989.9,1088.6 991.6,1090.2 990.1,1092.0 991.9,1093.6 990.6,1095.4 991.7,1097.0 990.0,1098.8 991.7,1100.5 990.4,1102.2 991.8,1103.9 990.6,1105.6 992.3,1107.3 991.4,1109.0 990.3,1110.7 992.7,1112.4 990.6,1114.1 992.0,1115.8 990.8,1117.5 991.9,1119.2 990.9,1120.9 992.4,1122.6 990.5,1124.3 992.1,1126.0 991.0,1127.7 992.0,1129.4 991.0,1131.1 992.4,1132.8 991.0,1134.5 992.8,1136.2 990.7,1137.9 992.3,1139.6 990.8,1141.3 992.0,1143.0 990.6,1144.7 992.8,1146.4 991.0,1148.1 992.8,1149.8 991.1,1151.5 992.3,1153.2 991.1,1154.9 992.3,1156.6 990.8,1158.3 992.7,1160.0 990.7,1161.7 992.2,1163.4 990.7,1165.1 992.6,1166.8 991.1,1168.5 992.7,1170.2 991.1,1171.9 992.4,1173.6 991.1,1175.3 992.9,1177.0 990.8,1178.7 993.2,1180.4 991.4,1182.1 993.2,1183.8 990.8,1185.5 993.0,1187.2 990.6,1188.9 992.4,1190.6 990.9,1192.3 993.2,1194.0 991.5,1195.7 993.0,1197.4 990.7,1199.1 992.7,1200.8 990.8,1202.5 993.3,1204.2 991.3,1205.9 992.6,1207.6 991.5,1209.3 993.3,1211.0 991.4,1212.7 992.8,1214.4 991.4,1216.1 993.4,1217.8 991.6,1219.5 992.5,1221.2 990.9,1222.9 992.2,1224.6 991.7,1222.8 993.2,1221.2 991.3,1219.3 993.4,1217.7 992.5,1215.8 994.3,1214.2 992.6,1212.3 993.9,1210.7 992.2,1208.8 994.2,1207.2 992.5,1205.3 994.5,1203.7 993.4,1201.9 994.7,1200.2 993.4,1198.4 995.3,1196.8 993.8,1194.9 995.6,1193.3 994.2,1191.4 996.2,1189.8 993.8,1187.9 996.4,1186.3 995.4,1184.5 996.6,1186.2 995.0,1188.0 996.0,1189.7 994.9,1191.4 996.0,1193.2 994.2,1194.9 996.8,1196.6 994.3,1198.4 996.4,1200.1 995.1,1201.8 996.3,1203.5 995.2,1205.3 996.9,1207.0 995.0,1208.8 996.3,1210.5 994.4,1212.2 996.2,1213.9 994.4,1215.7 996.4,1217.4 994.7,1219.1 996.2,1220.9 994.5,1222.6 996.5,1224.3 995.1,1226.1 996.8,1227.8 994.9,1229.5 996.4,1231.3 995.4,1233.0 996.8,1234.7 995.5,1236.5 997.1,1238.2 995.2,1239.9 996.4,1241.7 995.3,1243.4 996.4,1245.1 995.3,1246.9 996.9,1248.6 995.3,1250.3 996.7,1252.0 995.4,1253.8 996.9,1255.5 994.9,1257.3 996.9,1259.0 995.0,1260.7 996.9,1262.4 995.7,1264.2 996.7,1265.9 995.0,1267.6 997.0,1269.4 996.2,1271.1 995.4,1273.3 999.3,1273.6 995.8,1277.0 1000.4,1276.9 998.2,1279.8 1000.3,1280.8 1001.1,1282.5 1000.1,1284.4 1001.5,1286.1 999.8,1288.0 1001.6,1289.7 1000.0,1291.5 1001.7,1293.2 1000.0,1295.1 1001.6,1296.8 999.9,1298.7 1001.7,1300.4 1000.2,1302.3 1002.0,1304.0 1000.4,1305.8 1002.2,1307.5 1001.3,1309.4 1002.7,1311.1 1001.9,1312.9 1003.4,1311.3 1001.3,1309.2 1004.0,1307.8 1001.8,1305.7 1003.7,1304.2 1002.9,1302.3 1004.4,1300.7 1003.1,1298.7 1005.3,1297.2 1003.7,1295.2 1005.1,1293.6 1006.3,1291.9 1003.9,1290.1 1006.4,1288.5 1004.2,1286.7 1006.4,1285.1 1005.2,1283.3 1006.9,1281.7 1005.3,1279.9 1006.3,1278.2 1004.8,1276.4 1006.6,1274.8 1005.1,1273.0 1006.5,1271.3 1005.7,1269.6 1007.4,1267.9 1006.0,1266.2 1007.4,1264.5 1005.3,1262.7 1007.2,1261.1 1005.7,1259.3 1007.9,1257.7 1006.0,1255.8 1008.1,1254.2 1006.0,1252.4 1007.5,1250.8 1006.7,1249.0 1008.2,1247.4 1006.1,1245.6 1007.5,1243.9 1007.0,1245.6 1008.6,1247.3 1007.3,1249.0 1009.0,1250.7 1007.1,1252.5 1008.8,1254.1 1007.0,1255.9 1008.6,1257.5 1007.1,1259.3 1009.4,1260.9 1007.1,1262.7 1009.1,1264.3 1007.9,1266.1 1009.1,1267.8 1007.4,1269.6 1009.5,1271.2 1008.1,1272.9 1009.8,1274.6 1007.9,1276.4 1009.7,1278.0 1008.4,1279.8 1010.3,1281.4 1008.2,1283.2 1010.0,1284.8 1009.0,1286.6 1010.8,1288.2 1008.5,1290.0 1010.6,1291.6 1009.0,1293.4 1011.1,1295.0 1009.9,1296.8" fill="none" stroke="#5b9bd5" stroke-width="4.2" stroke-linejoin="round" stroke-linecap="round" filter="url(#bl)"/>
<polyline points="156.1,1629.2 155.7,1626.6 159.4,1627.0 157.4,1623.3 161.6,1624.0 160.4,1620.9 164.4,1621.5 163.6,1618.6 162.2,1616.6 165.9,1615.6 163.1,1613.3 165.7,1612.0 164.1,1610.0 166.5,1608.7 165.3,1606.7 166.9,1605.3 165.9,1603.3 168.7,1602.2 165.7,1599.8 169.3,1598.8 166.4,1596.5 169.1,1595.3 167.8,1593.3 170.4,1592.0 167.9,1589.8 169.7,1588.4 173.8,1588.7 168.0,1583.5 173.4,1584.5 170.4,1580.9 176.6,1582.3 172.4,1578.0 176.9,1578.5 174.1,1575.0 177.2,1574.7 178.2,1573.1 176.2,1570.9 180.0,1570.0 177.5,1567.6 180.0,1566.4 177.8,1564.1 181.2,1563.1 180.3,1561.1 179.1,1559.0 182.9,1558.3 180.6,1555.8 183.2,1554.8 181.4,1552.5 184.2,1551.5 183.0,1549.4 185.0,1548.2 183.1,1545.8 185.6,1544.8 185.6,1543.0 186.6,1544.6 185.3,1546.9 187.9,1548.1 186.4,1550.4 189.2,1551.5 188.6,1553.6 187.7,1555.4 190.6,1557.1 188.0,1558.9 189.9,1560.6 188.1,1562.4 190.3,1564.1 188.1,1565.9 190.0,1567.6 187.6,1569.5 190.1,1571.2 188.0,1573.0 189.3,1574.7 191.2,1576.4 189.0,1578.4 190.3,1580.1 189.1,1582.0 191.7,1583.7 188.9,1585.7 191.2,1587.4 189.6,1589.3 191.5,1591.0 190.9,1592.9 192.4,1591.4 191.2,1589.3 193.6,1588.1 190.9,1585.6 194.8,1584.7 192.0,1582.2 193.9,1580.8 197.7,1583.2 196.3,1577.9 198.4,1577.8 198.0,1579.7 201.1,1580.8 198.2,1583.4 201.2,1584.5 198.9,1586.9 202.4,1587.8 201.5,1589.9 200.4,1592.1 203.3,1593.3 202.1,1595.5 204.4,1596.9 203.1,1599.1 205.2,1600.5 202.9,1603.0 206.0,1604.2 205.1,1606.3 206.0,1608.0 208.2,1606.8 210.5,1608.0 211.5,1606.5 209.6,1604.3 212.5,1603.2 211.0,1601.1 212.8,1599.7 210.7,1597.6 214.0,1596.5 212.5,1594.4 213.6,1592.9 214.5,1591.4 213.9,1589.5 215.5,1588.1 213.8,1585.9 216.3,1584.8 215.5,1582.8 217.6,1581.6 216.1,1579.5 219.1,1578.5 217.1,1576.2 218.1,1574.7 217.4,1576.8 220.6,1577.8 218.6,1580.3 221.9,1581.3 219.5,1583.8 221.1,1585.3 223.5,1586.3 220.5,1589.8 224.5,1590.1 222.0,1593.3 226.6,1593.4 225.7,1595.9 227.7,1594.4 224.6,1592.1 227.6,1590.8 226.2,1588.8 227.8,1587.2 226.4,1585.2 228.2,1583.6 226.9,1581.7 229.6,1580.2 227.5,1578.1 229.0,1576.5 228.7,1574.7 227.3,1572.6 230.6,1571.4 227.8,1569.1 231.0,1567.9 228.6,1565.6 232.0,1564.4 229.3,1562.1 232.7,1560.9 230.4,1558.7 232.5,1557.2 231.4,1555.2 232.5,1553.6 234.5,1552.2 231.3,1549.9 235.1,1548.8 232.6,1546.7 235.2,1545.3 232.5,1543.2 235.7,1542.0 233.0,1539.8 236.1,1538.5 233.8,1536.4 236.8,1535.2 234.8,1533.1 237.7,1531.9 234.4,1529.6 237.0,1528.3 234.9,1526.2 237.0,1524.8 235.3,1526.7 238.6,1528.3 236.7,1530.2 239.1,1531.9 236.8,1533.8 239.4,1535.5 236.2,1537.5 238.3,1539.2 237.1,1541.0 239.3,1542.7 236.8,1544.7 239.7,1546.3 236.4,1548.3 239.1,1550.0 237.9,1551.8 238.5,1553.6 240.5,1555.2 238.4,1557.2 240.8,1558.7 238.7,1560.8 241.2,1562.3 238.2,1564.5 241.7,1565.9 238.9,1568.0 242.1,1569.4 239.8,1571.5 240.8,1573.2 242.3,1574.8 240.1,1576.7 242.8,1578.3 239.6,1580.2 242.4,1581.7 240.2,1583.6 242.0,1585.2 241.1,1587.0 243.0,1588.6 240.6,1590.5 243.6,1592.0 240.7,1593.9 242.8,1595.5 241.2,1597.3 242.3,1599.0 241.1,1595.3 246.6,1598.5 245.2,1594.6 249.8,1596.7 248.4,1592.9 252.5,1592.3 249.6,1596.7 254.0,1595.8 252.9,1599.0 251.8,1601.6 257.7,1600.3 253.8,1604.6 257.9,1604.2 255.0,1607.9 261.7,1606.0 259.0,1609.6 259.1,1611.9 262.5,1611.7 260.3,1616.0 266.8,1613.2 265.0,1617.1 263.5,1620.1 269.0,1619.6 264.4,1624.3 271.8,1622.8 269.6,1626.2 271.6,1624.9 268.0,1620.9 273.8,1621.5 271.4,1618.0 274.1,1617.1 276.1,1615.7 273.7,1613.5 276.7,1612.4 274.7,1610.3 277.4,1609.0 275.4,1606.9 277.1,1605.5 275.6,1603.4 278.0,1602.2 276.2,1600.1 279.5,1599.0 276.6,1596.7 278.9,1595.4 277.9,1593.4 280.3,1592.2 278.3,1590.0 281.2,1588.9 280.1,1586.9 279.0,1583.9 283.2,1584.6 283.2,1582.3 285.6,1583.4 281.3,1587.3 287.5,1586.8 283.0,1590.7 290.8,1589.5 287.7,1592.9 290.0,1595.9 292.3,1592.9 291.2,1590.8 294.2,1589.5 292.3,1587.3 295.2,1585.9 292.7,1583.6 295.8,1582.3 293.5,1580.0 296.4,1578.6 293.4,1576.3 295.3,1574.7 296.8,1573.1 294.6,1571.1 296.6,1569.6 294.6,1567.6 297.3,1566.2 295.2,1564.2 297.5,1562.7 296.4,1560.8 297.9,1559.2 295.8,1557.2 298.4,1555.8 296.1,1553.7 299.1,1552.4 298.3,1550.5 301.7,1551.1 297.8,1554.9 303.3,1554.6 300.1,1558.1 304.2,1558.4 302.8,1561.1 304.8,1559.5 302.4,1557.5 304.7,1556.0 302.6,1554.0 304.6,1552.5 303.4,1550.6 304.5,1548.9 302.4,1546.9 306.0,1545.6 303.0,1543.5 306.4,1542.1 303.1,1540.0 305.1,1538.4 304.5,1540.2 306.6,1541.8 304.2,1543.7 306.7,1545.3 303.8,1547.2 307.2,1548.8 303.9,1550.7 306.5,1552.3 304.5,1554.2 307.4,1555.7 304.6,1557.6 307.5,1559.2 304.6,1561.1 307.3,1562.7 304.7,1564.6 307.6,1566.2 305.3,1568.1 308.5,1569.7 305.4,1571.6 307.8,1573.2 306.2,1575.0 308.0,1576.7 305.8,1578.5 309.2,1580.1 305.6,1582.1 308.5,1583.6 306.5,1585.5 309.3,1587.1 306.9,1589.0 308.9,1590.6 307.4,1592.4 308.7,1594.1 308.1,1595.9 309.5,1594.3 307.0,1592.2 310.0,1590.7 307.9,1588.7 310.9,1587.3 307.9,1585.2 310.1,1583.6 309.1,1581.7 311.7,1580.2 308.2,1578.0 312.0,1576.7 310.4,1574.7 312.4,1571.7 314.5,1576.7 316.5,1574.7 316.2,1572.9 317.8,1571.3 316.5,1569.3 319.3,1567.9 316.0,1565.7 319.6,1564.4 317.6,1562.3 319.3,1560.7 317.9,1558.7 320.8,1557.4 318.6,1555.3 319.5,1553.6 323.5,1553.1 317.8,1549.0 324.1,1549.4 318.3,1545.2 324.5,1545.6 320.9,1542.3 324.1,1541.5 326.5,1540.1 324.9,1536.8 327.1,1535.4 327.9,1533.7 326.7,1531.8 328.5,1530.3 327.6,1528.4 330.3,1527.0 327.8,1524.9 330.7,1523.6 327.8,1521.3 331.0,1520.1 328.4,1517.9 331.8,1516.7 328.6,1514.4 332.0,1513.2 330.8,1511.2 332.2,1512.8 329.7,1514.7 332.7,1516.2 330.2,1518.1 332.7,1519.6 331.0,1521.4 333.5,1522.9 330.9,1524.9 332.7,1526.4 331.6,1528.2 334.2,1529.7 331.8,1531.6 333.8,1533.2 331.5,1535.1 334.8,1536.5 332.3,1538.4 334.4,1539.9 332.5,1541.8 334.2,1543.4 332.1,1545.3 334.5,1546.8 332.3,1548.7 335.0,1550.1 333.8,1552.0 334.6,1553.6 336.4,1555.2 333.3,1557.2 335.8,1558.8 333.9,1560.7 336.5,1562.2 334.0,1564.2 336.4,1565.8 334.1,1567.7 337.8,1569.2 334.6,1571.2 338.0,1572.7 334.6,1574.7 337.5,1576.2 335.0,1578.2 338.4,1579.7 335.6,1581.6 337.7,1583.2 335.9,1585.1 339.1,1586.6 336.6,1588.6 339.1,1590.2 336.1,1592.2 339.3,1593.7 337.6,1595.6 339.6,1597.1 338.4,1599.0 337.7,1600.8 340.4,1602.3 337.5,1604.3 339.9,1605.8 337.4,1607.7 340.7,1609.2 338.5,1611.1 341.3,1612.6 338.1,1614.6 341.7,1616.0 338.4,1618.0 341.6,1619.4 338.9,1621.4 341.9,1622.9 340.7,1624.7 342.2,1623.2 339.4,1621.0 342.5,1619.8 341.2,1617.8 343.5,1616.5 341.1,1614.4 343.8,1613.0 341.5,1610.9 343.9,1609.6 342.6,1607.6 344.2,1606.2 342.3,1604.1 345.9,1602.9 343.0,1600.8 345.3,1599.4 343.1,1597.3 345.2,1595.9 346.9,1594.3 344.1,1592.4 345.9,1590.8 343.8,1589.0 346.9,1587.4 344.2,1585.6 346.2,1584.0 344.2,1582.2 346.3,1580.5 344.7,1578.8 346.6,1577.1 345.0,1575.4 347.8,1573.8 344.6,1571.9 347.8,1570.3 345.3,1568.5 347.3,1566.9 345.0,1565.1 347.0,1563.5 345.4,1561.7 348.4,1560.1 345.1,1558.2 346.7,1556.6 350.4,1559.0 349.9,1552.8 352.8,1553.6 354.5,1552.0 351.8,1549.7 355.2,1548.4 352.9,1546.1 355.0,1544.6 354.1,1542.6 356.6,1541.1 353.4,1538.7 356.4,1537.4 355.8,1535.4 354.5,1533.4 357.3,1532.0 355.2,1529.9 358.4,1528.6 356.1,1526.4 358.6,1525.0 356.7,1522.9 359.0,1521.4 357.5,1519.4 359.1,1517.9 357.7,1515.8 358.8,1514.2 360.9,1513.0 359.0,1510.7 361.6,1509.5 359.9,1507.3 362.7,1506.3 360.6,1504.0 362.3,1502.6 361.4,1500.6 362.6,1499.1 360.9,1500.9 364.2,1502.5 361.2,1504.4 364.2,1505.9 362.5,1507.8 364.2,1509.4 362.3,1511.3 365.3,1512.8 362.9,1514.7 364.5,1516.3 362.1,1518.2 364.5,1519.8 362.2,1521.7 365.0,1523.2 363.0,1525.1 365.8,1526.7 362.7,1528.6 365.2,1530.2 363.0,1532.0 365.5,1533.6 364.9,1535.4 362.9,1538.9 367.9,1539.0 367.9,1541.5 366.7,1545.2 371.5,1542.7 370.4,1546.3 373.6,1545.5 374.0,1547.5 373.3,1549.3 375.3,1550.8 372.7,1552.8 376.1,1554.2 374.0,1556.1 377.0,1557.5 374.6,1559.5 376.3,1561.0 373.9,1563.0 377.7,1564.3 374.6,1566.4 378.1,1567.7 375.9,1569.7 378.4,1571.1 375.4,1573.2 377.0,1574.7 378.6,1576.3 375.6,1578.3 378.0,1579.8 376.8,1581.7 378.3,1583.3 376.7,1585.2 379.2,1586.7 376.9,1588.7 379.2,1590.2 376.8,1592.1 380.1,1593.6 377.1,1595.6 379.3,1597.2 378.2,1599.0 379.8,1600.6 378.4,1602.5 380.6,1604.0 378.7,1605.9 380.9,1607.5 378.8,1609.4 380.8,1611.0 378.5,1612.9 381.9,1614.4 379.5,1616.3 381.4,1617.9 378.7,1619.9 381.4,1621.4 380.8,1623.2 381.4,1621.5 380.3,1619.7 382.8,1618.2 379.8,1616.3 383.3,1614.8 380.5,1612.9 382.3,1611.3 381.0,1609.5 383.5,1608.0 381.1,1606.1 383.0,1604.5 381.4,1602.6 383.7,1601.1 381.8,1599.2 384.0,1597.7 383.0,1595.9 382.5,1594.0 383.9,1592.4 382.0,1590.3 385.3,1588.9 382.9,1586.8 384.8,1585.2 383.5,1583.2 385.8,1581.7 383.0,1579.6 386.1,1578.1 383.3,1576.0 386.5,1574.5 384.8,1572.5 387.0,1570.9 384.6,1568.9 386.1,1567.2 385.0,1569.1 388.0,1570.4 386.3,1572.4 388.1,1573.9 385.7,1575.9 388.1,1577.3 387.2,1579.2 388.7,1580.7 387.3,1582.7 389.5,1584.1 387.7,1586.1 390.2,1587.5 388.4,1589.5 390.3,1591.0 388.1,1593.0 391.0,1594.3 390.0,1596.2 387.4,1599.8 395.2,1597.2 391.1,1601.7 395.4,1601.2 394.5,1603.8 397.7,1603.1 393.3,1599.4 398.6,1599.6 393.7,1595.6 399.4,1596.0 396.2,1592.7 400.6,1592.5 396.4,1588.9 400.6,1588.6 404.0,1588.0 398.0,1583.8 403.9,1584.2 400.1,1580.9 406.5,1581.5 403.3,1578.4 408.4,1578.5 402.1,1574.2 407.5,1574.4 403.2,1570.8 410.9,1571.9 408.2,1569.0 406.9,1565.7 412.7,1567.6 410.1,1563.3 412.7,1562.9 413.5,1561.3 412.0,1559.3 415.1,1558.0 412.9,1556.0 415.0,1554.6 413.3,1552.6 415.8,1551.2 412.8,1549.0 416.6,1547.8 414.2,1545.8 416.4,1544.3 415.1,1542.4 417.0,1541.0 414.4,1538.9 417.9,1537.6 416.5,1535.7 416.2,1533.9 418.2,1532.5 416.9,1530.5 418.8,1529.1 416.3,1526.9 419.2,1525.7 417.0,1523.5 420.8,1522.5 417.7,1520.2 420.4,1518.9 418.2,1516.7 422.0,1515.7 418.7,1513.3 421.3,1512.1 420.7,1510.2 422.4,1508.8 421.8,1506.9 423.2,1508.5 421.1,1510.5 423.0,1512.0 421.2,1513.9 424.2,1515.3 421.6,1517.3 424.4,1518.8 422.2,1520.8 425.0,1522.2 423.2,1524.1 425.1,1525.6 423.5,1527.5 425.0,1529.1 423.1,1531.1 424.8,1532.6 425.8,1534.3 424.0,1536.0 425.9,1537.7 423.8,1539.5 425.8,1541.1 423.9,1542.9 425.9,1544.5 423.6,1546.3 426.1,1547.9 424.0,1549.7 426.8,1551.3 424.6,1553.1 426.6,1554.7 424.8,1556.5 427.4,1558.1 424.7,1559.9 427.3,1561.5 425.3,1563.3 427.5,1564.9 425.5,1566.7 427.5,1568.3 425.0,1570.1 427.7,1571.7 425.2,1573.5 427.9,1575.1 425.9,1576.9 428.6,1578.5 425.4,1580.3 428.4,1581.9 425.1,1583.8 428.1,1585.3 427.1,1587.1 428.3,1585.5 426.8,1583.5 428.8,1582.1 427.3,1580.0 429.4,1578.6 428.0,1576.6 430.1,1575.2 428.4,1573.1 430.5,1571.7 428.4,1569.6 431.0,1568.2 428.7,1566.1 432.2,1564.9 430.9,1562.9 430.2,1561.1 432.9,1559.7 430.7,1557.7 432.3,1556.2 430.0,1554.2 432.5,1552.8 431.7,1550.9 434.1,1549.5 432.1,1547.5 434.2,1546.1 431.7,1544.1 433.9,1542.6 432.5,1540.7 435.4,1539.3 432.7,1537.3 433.9,1535.7 435.1,1534.1 433.6,1531.9 436.5,1530.7 434.5,1528.4 436.4,1527.0 434.6,1524.8 437.1,1523.5 436.4,1521.5 437.7,1519.9 435.8,1517.6 439.1,1516.5 438.4,1514.5 440.3,1511.1 442.2,1514.5 440.8,1517.5 447.6,1515.3 443.2,1520.1 446.0,1520.5 447.2,1522.1 445.1,1524.2 447.2,1525.7 446.0,1527.7 448.8,1529.1 446.2,1531.3 448.9,1532.7 446.2,1534.9 449.3,1536.2 447.0,1538.4 449.8,1539.8 449.0,1541.7 448.9,1543.6 451.0,1545.0 449.8,1547.2 451.5,1548.6 450.7,1550.8 452.0,1552.3 452.9,1553.9 451.4,1555.8 454.3,1557.1 451.5,1559.3 455.0,1560.5 452.6,1562.5 455.2,1563.9 452.3,1566.0 455.3,1567.3 452.8,1569.4 455.4,1570.7 453.3,1572.8 457.0,1573.9 453.7,1576.1 457.5,1577.3 454.6,1579.5 457.4,1580.8 456.6,1582.6 458.3,1581.1 455.2,1579.0 458.4,1577.7 456.0,1575.7 459.3,1574.3 456.8,1572.3 458.8,1570.8 457.5,1569.0 459.9,1567.5 457.0,1565.5 460.0,1564.1 457.9,1562.2 459.6,1560.7 457.9,1558.8 461.0,1557.4 458.5,1555.4 459.6,1553.8 458.3,1556.6 463.5,1556.2 458.9,1560.7 464.4,1560.1 460.6,1564.1 465.8,1563.7 465.7,1565.9 467.4,1564.3 464.8,1562.0 467.7,1560.7 465.4,1558.4 468.1,1557.0 466.8,1554.9 468.8,1553.4 467.3,1551.3 469.9,1549.9 468.7,1547.8 467.5,1546.0 470.2,1544.4 467.0,1542.5 470.5,1540.9 467.4,1539.1 470.9,1537.4 467.3,1535.6 470.7,1534.0 468.2,1532.1 470.5,1530.5 467.8,1528.6 471.0,1527.0 467.7,1525.2 471.0,1523.5 468.1,1521.7 470.4,1520.0 468.3,1518.2 470.4,1516.6 468.4,1514.8 470.5,1513.1 469.4,1511.3 471.8,1509.7 468.3,1507.8 470.8,1506.1 469.6,1504.4 471.6,1502.7 468.9,1500.9 470.9,1499.2 468.9,1497.4 471.8,1495.7 469.3,1493.9 471.2,1492.3 470.1,1490.5 471.1,1488.8 469.7,1487.0 472.0,1485.3 469.6,1483.5 471.5,1481.8 469.5,1480.0 471.4,1478.4 471.0,1476.6 472.3,1478.2 470.8,1480.1 472.0,1481.7 471.1,1483.5 473.3,1485.0 471.5,1486.9 472.7,1488.5 471.5,1490.4 473.5,1491.9 471.8,1493.8 474.2,1495.2 472.0,1497.2 474.9,1498.6 472.8,1500.6 475.0,1502.1 474.0,1503.9 473.5,1505.6 474.7,1507.3 473.5,1509.1 475.5,1510.8 473.3,1512.5 475.4,1514.2 472.7,1516.0 475.0,1517.7 473.5,1519.4 474.9,1521.1 473.2,1522.9 475.1,1524.6 473.8,1526.3 475.7,1528.0 473.1,1529.7 475.8,1531.4 472.9,1533.2 475.6,1534.9 473.0,1536.6 475.6,1538.3 473.5,1540.1 475.8,1541.8 472.9,1543.5 475.0,1545.2 473.9,1547.0 475.1,1548.7 473.6,1550.4 476.0,1552.1 473.5,1553.9 476.0,1555.6 473.8,1557.3 475.7,1559.0 473.9,1560.7 475.8,1562.4 473.9,1564.2 474.7,1565.9 476.9,1566.8 477.8,1569.0 477.0,1570.8 479.0,1572.5 476.6,1574.3 478.9,1576.0 476.7,1577.8 479.7,1579.5 477.8,1581.3 479.8,1583.0 477.0,1584.8 480.2,1586.5 477.4,1588.3 479.6,1590.0 477.8,1591.8 480.1,1593.5 477.8,1595.3 479.7,1597.0 477.7,1598.9 480.3,1600.5 479.3,1602.3 478.9,1604.1 480.3,1605.7 479.1,1607.6 480.6,1609.2 479.2,1611.0 480.9,1612.7 479.2,1614.5 481.4,1616.2 478.8,1618.1 480.8,1619.7 478.9,1621.5 481.5,1623.2 479.7,1625.0 482.1,1626.6 480.3,1628.5 481.6,1630.1 479.7,1632.0 481.5,1633.6 480.0,1635.5 482.6,1637.1 480.4,1638.9 482.6,1640.6 480.8,1642.4 483.1,1644.0 480.0,1645.9 482.3,1647.6 480.4,1649.4 482.7,1651.0 481.5,1652.9 482.7,1654.5 480.8,1656.4 483.2,1658.0 482.3,1659.8 483.4,1658.2 481.9,1656.3 483.2,1654.7 481.9,1652.9 483.8,1651.3 481.5,1649.5 483.9,1647.9 482.3,1646.1 484.7,1644.5 482.1,1642.6 484.7,1641.1 482.1,1639.2 484.6,1637.6 483.0,1635.8 484.3,1634.2 482.7,1632.4 485.3,1630.8 482.6,1628.9 485.7,1627.4 483.3,1625.5 485.4,1623.9 482.9,1622.1 485.1,1620.5 483.8,1618.7 485.9,1617.1 483.8,1615.3 486.1,1613.7 484.5,1611.9 486.2,1610.2 484.7,1608.4 486.3,1606.8 484.9,1605.0 486.4,1603.4 484.5,1601.6 486.7,1600.0 485.3,1598.2 487.0,1596.6 484.9,1594.7 487.0,1593.1 485.6,1591.3 487.3,1589.7 485.3,1587.9 487.0,1586.3 485.5,1584.5 487.3,1582.8 486.9,1581.1 488.5,1582.7 486.5,1584.6 488.6,1586.2 486.9,1588.0 488.4,1589.7 486.8,1591.5 489.0,1593.1 486.4,1595.0 488.4,1596.6 487.5,1598.4 489.4,1600.0 487.3,1601.9 489.1,1603.5 487.6,1605.4 489.3,1607.0 487.5,1608.8 489.6,1610.4 488.2,1612.2 489.9,1613.9 487.4,1615.8 490.5,1617.3 488.0,1619.2 490.9,1620.8 488.5,1622.6 490.4,1624.3 488.3,1626.1 490.3,1627.7 488.5,1629.6 490.5,1631.2 488.9,1633.0 491.2,1634.6 488.9,1636.5 490.9,1638.1 489.3,1639.9 490.6,1641.6 492.2,1643.2 490.6,1645.2 492.5,1646.8 490.8,1648.8 493.0,1650.3 490.4,1652.5 492.6,1654.0 491.5,1656.0 493.6,1657.5 491.3,1659.6 494.6,1661.0 492.8,1663.0 494.1,1664.7 492.8,1666.7 495.3,1668.2 492.8,1670.3 494.4,1671.9 493.7,1669.9 496.6,1668.7 494.1,1666.4 497.3,1665.2 495.0,1662.9 497.2,1661.6 495.6,1659.4 498.5,1658.2 496.1,1655.9 498.5,1654.6 497.9,1652.6 499.4,1651.1 499.0,1649.2 498.5,1646.9 502.5,1647.2 500.8,1644.1 504.8,1644.4 503.5,1641.6 502.7,1639.8 504.4,1638.2 503.3,1636.4 505.0,1634.8 503.5,1633.0 505.6,1631.4 503.5,1629.5 505.8,1627.9 503.9,1626.1 505.4,1624.4 503.3,1622.6 505.8,1621.0 503.9,1619.2 506.4,1617.6 504.4,1615.8 506.6,1614.2 504.2,1612.3 506.1,1610.7 504.6,1608.9 506.3,1607.2 504.5,1605.4 506.7,1603.8 504.8,1602.0 507.1,1600.4 504.6,1598.5 507.4,1596.9 505.5,1595.1 507.6,1593.5 505.2,1591.6 508.1,1590.1 505.8,1588.2 507.8,1586.6 505.6,1584.7 507.8,1583.2 506.3,1581.3 508.3,1579.7 506.4,1577.9 508.8,1576.3 506.7,1574.5 508.3,1572.8 506.5,1571.0 508.9,1569.4 506.3,1567.5 508.0,1565.9 506.6,1567.7 509.2,1569.3 507.5,1571.1 509.8,1572.7 507.7,1574.6 510.0,1576.1 508.1,1578.0 510.6,1579.6 507.8,1581.5 510.8,1583.0 508.2,1585.0 511.2,1586.5 509.1,1588.4 511.5,1589.9 509.5,1591.8 510.8,1593.4 509.4,1595.3 511.1,1596.9 510.0,1598.7 512.0,1600.3 510.4,1602.1 511.1,1603.8 512.4,1605.2 511.2,1607.3 513.9,1608.4 512.4,1610.6 514.3,1611.8 512.9,1614.0 514.8,1615.3 513.9,1617.3 516.0,1618.5 515.6,1620.4 516.5,1618.8 514.7,1616.9 517.0,1615.4 515.1,1613.5 517.1,1612.0 515.1,1610.1 517.4,1608.6 515.9,1606.8 517.8,1605.2 515.8,1603.4 518.2,1601.8 516.4,1600.0 518.1,1598.4 516.4,1596.6 518.4,1595.0 516.0,1593.1 518.7,1591.6 516.5,1589.8 519.2,1588.2 517.1,1586.4 519.5,1584.9 517.1,1583.0 519.3,1581.4 517.7,1579.6 518.8,1578.0 517.9,1576.2 519.6,1574.6 518.0,1572.8 520.2,1571.3 518.3,1569.4 520.2,1567.9 517.6,1566.0 520.5,1564.5 517.8,1562.6 520.8,1561.1 518.1,1559.2 520.1,1557.6 518.7,1555.8 520.6,1554.2 519.1,1552.4 520.1,1550.8 521.8,1549.4 519.7,1547.1 522.0,1545.9 521.2,1543.9 522.7,1542.5 521.4,1540.4 524.4,1539.4 523.0,1537.3 523.9,1535.7 523.7,1537.6 525.2,1539.2 523.5,1541.5 525.9,1542.8 524.7,1545.0 527.6,1546.3 526.0,1548.5 528.1,1549.9 526.5,1552.2 527.7,1553.8 528.9,1555.5 526.8,1557.3 528.4,1559.0 526.4,1560.7 528.9,1562.4 526.4,1564.2 529.1,1565.9 526.5,1567.6 529.3,1569.3 527.7,1571.1 528.6,1572.8 526.6,1574.6 529.5,1576.2 527.0,1578.0 529.8,1579.7 527.6,1581.4 529.7,1583.1 527.3,1584.9 529.1,1586.6 527.6,1588.3 530.2,1590.0 527.6,1591.8 530.1,1593.5 528.3,1595.2 529.8,1596.9 527.9,1598.7 530.0,1600.4 527.6,1602.2 530.0,1603.8 528.0,1605.6 530.2,1607.3 527.9,1609.1 530.3,1610.7 528.4,1612.5 530.1,1614.2 527.9,1616.0 530.2,1617.6 528.2,1619.4 530.2,1621.1 527.9,1622.9 530.3,1624.5 528.7,1626.3 530.5,1628.0 528.3,1629.8 531.1,1631.4 529.1,1633.2 530.6,1634.9 528.6,1636.7 530.9,1638.3 530.0,1640.1 530.7,1638.4 529.7,1636.6 531.7,1635.0 529.3,1633.1 532.0,1631.6 530.3,1629.8 531.9,1628.2 530.4,1626.3 532.2,1624.7 530.6,1622.9 532.1,1621.3 530.4,1619.4 532.2,1617.8 530.4,1616.0 532.5,1614.4 531.3,1612.6 533.5,1611.0 531.6,1609.1 533.2,1607.5 531.2,1605.7 533.7,1604.1 531.4,1602.2 534.4,1600.7 531.5,1598.8 533.7,1597.2 532.4,1595.4 534.4,1593.8 532.8,1592.0 535.1,1590.4 533.8,1588.6 534.9,1590.2 532.8,1592.3 535.0,1593.8 533.9,1595.8 536.2,1597.3 534.0,1599.4 536.5,1600.8 534.3,1602.9 536.8,1604.4 535.5,1606.4 537.2,1607.9 536.2,1609.9 538.0,1611.4 536.0,1613.5 538.2,1615.0 536.8,1617.0 539.0,1618.5 538.3,1620.4 540.1,1618.9 537.8,1616.8 540.4,1615.3 538.6,1613.3 541.0,1611.9 539.3,1609.9 540.5,1608.3 539.0,1606.3 541.5,1604.8 539.6,1602.8 542.0,1601.3 540.3,1599.3 542.5,1597.9 540.7,1595.8 542.9,1594.4 540.8,1592.3 543.1,1590.8 541.2,1588.8 544.2,1587.4 541.4,1585.3 543.7,1583.8 542.5,1581.9 544.3,1580.3 543.3,1578.4 545.1,1576.9 544.4,1575.0 546.2,1576.4 544.9,1578.7 547.2,1579.9 545.0,1582.5 548.4,1583.4 546.1,1586.0 548.5,1587.2 547.2,1589.5 550.0,1590.6 548.7,1592.9 551.2,1594.1 550.4,1596.2 549.7,1598.0 552.1,1599.5 549.4,1601.5 551.9,1603.0 550.5,1604.9 552.6,1606.5 550.8,1608.3 552.1,1610.0 550.2,1611.9 552.5,1613.4 551.3,1615.3 553.0,1616.9 551.0,1618.8 553.0,1620.3 551.8,1622.2 553.2,1623.8 552.1,1625.6 554.3,1627.2 551.9,1629.1 554.4,1630.7 553.4,1632.5 555.2,1631.0 553.5,1629.0 555.0,1627.5 553.4,1625.5 555.7,1624.1 553.6,1622.0 556.1,1620.7 554.2,1618.6 557.3,1617.4 555.1,1615.3 558.1,1614.1 555.9,1611.9 557.9,1610.5 556.5,1608.5 559.0,1607.2 558.0,1605.3 561.6,1605.8 556.9,1609.6 562.8,1609.2 558.2,1613.0 564.1,1612.6 560.8,1615.8 565.6,1615.9 561.2,1619.6 564.0,1620.4 563.4,1618.5 565.0,1617.0 563.6,1615.0 565.6,1613.5 564.3,1611.6 566.5,1610.1 565.0,1608.1 566.6,1606.5 565.6,1604.6 567.2,1603.0 565.2,1601.0 567.5,1599.5 566.3,1597.6 567.8,1596.0 566.4,1594.1 569.0,1592.6 567.4,1590.6 569.6,1589.2 568.0,1587.2 569.2,1585.5 568.4,1583.7 570.5,1582.2 568.9,1580.2 570.9,1578.7 569.2,1576.7 570.1,1575.0 571.3,1573.4 570.5,1571.3 572.8,1569.9 571.1,1567.6 573.8,1566.3 571.6,1563.8 574.3,1562.6 572.8,1560.3 575.2,1559.0 574.6,1556.9 574.8,1553.8 579.6,1557.8 579.2,1553.8 579.9,1555.5 578.6,1557.3 580.9,1558.9 578.1,1560.7 580.5,1562.4 578.4,1564.1 579.9,1565.8 578.8,1567.6 580.9,1569.3 578.8,1571.0 580.7,1572.7 578.6,1574.5 580.3,1576.2 579.2,1577.9 580.2,1579.6 578.5,1581.4 580.5,1583.0 578.8,1584.8 581.0,1586.5 578.6,1588.2 580.5,1589.9 579.0,1591.7 581.3,1593.3 578.8,1595.1 581.0,1596.8 578.9,1598.6 581.5,1600.2 578.7,1602.0 581.2,1603.7 579.7,1605.4 580.8,1607.1 579.1,1608.9 581.6,1610.6 579.4,1612.3 581.6,1614.0 579.8,1615.7 581.3,1617.4 579.6,1619.2 581.8,1620.9 579.0,1622.6 581.3,1624.3 580.1,1626.1 581.5,1627.8 580.7,1629.5 582.4,1627.9 579.6,1625.8 581.9,1624.3 580.8,1622.4 582.9,1620.9 580.6,1618.8 583.4,1617.4 581.7,1615.4 584.4,1613.9 581.8,1611.8 584.8,1610.4 582.2,1608.3 585.4,1606.9 582.8,1604.8 585.6,1603.4 583.5,1601.3 585.9,1599.9 583.4,1597.7 585.2,1596.2 587.0,1594.7 584.2,1592.5 587.1,1591.1 585.2,1589.1 587.3,1587.6 585.7,1585.6 588.4,1584.1 585.9,1582.0 588.7,1580.6 586.4,1578.5 588.3,1577.0 587.1,1575.0 589.1,1573.5 586.9,1571.5 590.0,1570.1 588.1,1568.0 590.2,1566.5 588.0,1564.5 589.7,1562.9 592.5,1561.9 588.2,1558.6 593.2,1558.4 590.1,1555.4 595.4,1555.4 591.8,1552.2 596.3,1551.9 594.3,1549.3 597.4,1547.5 595.5,1554.2 600.0,1550.0 599.1,1555.1 601.9,1553.8 603.7,1555.3 601.0,1557.5 604.1,1558.9 601.9,1561.0 603.7,1562.6 602.0,1564.6 604.2,1566.1 602.6,1568.1 604.9,1569.6 603.0,1571.7 605.8,1573.1 604.9,1575.0 604.5,1577.8 608.9,1575.9 607.3,1579.9 612.3,1577.4 610.9,1581.1 610.4,1584.0 615.8,1581.0 613.7,1585.6 616.5,1585.2 617.0,1587.1 616.9,1589.0 618.8,1590.4 617.0,1592.8 619.5,1594.0 618.5,1596.2 620.0,1597.7 621.3,1594.1 624.5,1598.4 626.1,1596.2 625.6,1594.3 627.3,1592.8 626.4,1590.8 628.2,1589.3 626.3,1587.2 628.3,1585.7 626.8,1583.7 629.1,1582.2 627.1,1580.1 629.3,1578.6 628.2,1576.7 630.6,1575.2 628.1,1573.1 630.9,1571.7 629.0,1569.6 631.2,1568.1 629.5,1566.0 630.6,1564.4 629.7,1566.3 632.8,1567.5 630.6,1569.7 632.9,1571.0 631.0,1573.1 633.6,1574.3 632.1,1576.4 633.7,1577.8 633.6,1579.6 635.3,1578.0 633.2,1575.8 636.0,1574.4 634.1,1572.2 635.2,1570.5" fill="none" stroke="#7ea63c" stroke-width="4.6" stroke-linejoin="round" stroke-linecap="round" filter="url(#bl)"/>
<line x1="205" y1="1329.5" x2="378" y2="1329.5" stroke="#e6e9ee" stroke-width="3"/>
<rect x="454.2" y="239.7" width="171.8" height="22" fill="url(#shd)"/>
<rect x="454.2" y="196.5" width="165.8" height="43.19999999999999" fill="#fdfdfd" stroke="#dfe3e8" stroke-width="1.5"/>
<text transform="translate(463.52,229.60) scale(0.9905,1)" font-size="29.5" font-weight="normal" fill="#1a1d21" stroke="#1a1d21" stroke-width="0.6">Chart Area</text>
<rect x="124.2" y="605.1" width="143.40000000000003" height="22" fill="url(#shd)"/>
<rect x="124.2" y="556.0" width="137.40000000000003" height="49.10000000000002" fill="#fdfdfd" stroke="#dfe3e8" stroke-width="1.5"/>
<text transform="translate(127.89,591.20) scale(1.0698,1)" font-size="27.5" font-weight="normal" fill="#1a1d21" stroke="#1a1d21" stroke-width="0.6">Plot Area</text>
<polygon points="458.0,82.3 497.9,82.3 478.4,118.3" fill="#000"/>
<polygon points="914.6,82.3 957.0,82.3 936.0,118.7" fill="#000"/>
<polygon points="599.2,565.4 638.6,565.4 619.0,598.5" fill="#000"/>
<polygon points="868.9,483.1 909.1,483.1 889.2,516.0" fill="#000"/>
<polygon points="388.7,958.0 431.4,958.0 410.0,994.1" fill="#000"/>
<polygon points="971.6,971.4 1010.2,971.4 990.3,1006.4" fill="#000"/>
<polygon points="177.8,1469.9 215.5,1469.9 196.7,1505.4" fill="#000"/>
<polygon points="217.1,1441.5 254.9,1441.5 236.0,1474.9" fill="#000"/>
<polygon points="310.0,1444.7 350.3,1444.7 329.5,1479.3" fill="#000"/>
<polygon points="401.9,1444.7 439.0,1444.7 420.1,1478.7" fill="#000"/>
<polygon points="450.0,1418.3 490.0,1418.3 469.9,1453.5" fill="#000"/>
<polygon points="499.5,1463.0 541.3,1463.0 520.9,1496.0" fill="#000"/>
<polygon points="606.5,1488.8 645.2,1488.8 626.3,1521.2" fill="#000"/>
<polygon points="400.9,1736.3 440.2,1736.3 420.9,1769.6" fill="#000"/>
<polyline points="724.6,1539.3 724.6,1639.3 990.5,1639.3" fill="none" stroke="#000" stroke-width="3.6"/>
<text transform="translate(697.70,1643.69) rotate(-90) scale(0.9615,1)" font-size="35" font-weight="normal" fill="#1b2229" stroke="#1b2229" stroke-width="0.4">20 mmHg</text>
<text transform="translate(881.17,1677.00) scale(1.0065,1)" font-size="33" font-weight="normal" fill="#1b2229" stroke="#1b2229" stroke-width="0.4">5 mins</text>
<text transform="translate(457.66,1763.60) scale(0.9573,1)" font-size="34" font-weight="normal" fill="#1b2229" stroke="#1b2229" stroke-width="0.4">Void</text>
<text transform="translate(723.79,1763.30) scale(1.0499,1)" font-size="32" font-weight="normal" fill="#1b2229" stroke="#1b2229" stroke-width="0.4">Cystometry Unit</text>
<line x1="1296.0" y1="176.2" x2="1296.0" y2="553.9" stroke="#8a8a8a" stroke-width="1.8"/>
<line x1="1283.0" y1="176.2" x2="1299.0" y2="176.2" stroke="#8a8a8a" stroke-width="1.8"/>
<line x1="1283.0" y1="302.4" x2="1296.0" y2="302.4" stroke="#8a8a8a" stroke-width="1.8"/>
<line x1="1283.0" y1="428.1" x2="1296.0" y2="428.1" stroke="#8a8a8a" stroke-width="1.8"/>
<line x1="1283.0" y1="553.9" x2="1641.0" y2="553.9" stroke="#8a8a8a" stroke-width="1.8"/>
<rect x="1306.5" y="283.8" width="65.9" height="270.0" fill="#ffffff" stroke="#000" stroke-width="4.4" stroke-linejoin="round"/>
<rect x="1393.9" y="284.0" width="66.6" height="269.8" fill="#000000" stroke="#000" stroke-width="4.4" stroke-linejoin="round"/>
<rect x="1481.3" y="279.8" width="66.7" height="274.0" fill="#2E75B6" stroke="#000" stroke-width="4.4" stroke-linejoin="round"/>
<rect x="1569.0" y="509.2" width="66.3" height="44.6" fill="#A9D18E" stroke="#000" stroke-width="4.4" stroke-linejoin="round"/>
<path d="M1333.1,226.5 H1346.1 M1339.6,226.5 V340.0 M1333.1,340.0 H1346.1" stroke="#646464" stroke-width="1.9" fill="none"/>
<path d="M1420.9,250.4 H1433.9 M1427.4,250.4 V317.0 M1420.9,317.0 H1433.9" stroke="#646464" stroke-width="1.9" fill="none"/>
<path d="M1511.4,202.1 H1524.4 M1517.9,202.1 V357.8 M1511.4,357.8 H1524.4" stroke="#646464" stroke-width="1.9" fill="none"/>
<path d="M1595.7,507.8 H1608.7 M1602.2,507.8 V510.5 M1595.7,510.5 H1608.7" stroke="#646464" stroke-width="1.9" fill="none"/>
<text transform="translate(1184.85,191.40) scale(0.9960,1)" font-size="41.5" font-weight="normal" fill="#000" >150</text>
<text transform="translate(1184.85,319.80) scale(0.9960,1)" font-size="41.5" font-weight="normal" fill="#000" >100</text>
<text transform="translate(1207.24,445.60) scale(1.0588,1)" font-size="41.5" font-weight="normal" fill="#000" >50</text>
<text transform="translate(1233.62,569.50) scale(1.0334,1)" font-size="41.5" font-weight="normal" fill="#000" >0</text>
<text transform="translate(1593.27,490.26) scale(0.874,1)" font-size="47.4" font-weight="bold" style="font-family:'DejaVu Sans',sans-serif" fill="#000">*</text>
<line x1="1297.2" y1="763.3" x2="1297.2" y2="1140.7" stroke="#8a8a8a" stroke-width="1.8"/>
<line x1="1284.5" y1="763.3" x2="1300.2" y2="763.3" stroke="#8a8a8a" stroke-width="1.8"/>
<line x1="1284.5" y1="888.9" x2="1297.2" y2="888.9" stroke="#8a8a8a" stroke-width="1.8"/>
<line x1="1284.5" y1="1014.9" x2="1297.2" y2="1014.9" stroke="#8a8a8a" stroke-width="1.8"/>
<line x1="1284.5" y1="1140.7" x2="1642.0" y2="1140.7" stroke="#8a8a8a" stroke-width="1.8"/>
<rect x="1307.8" y="888.6" width="66.3" height="251.7" fill="#ffffff" stroke="#000" stroke-width="4.4" stroke-linejoin="round"/>
<rect x="1395.5" y="889.3" width="66.1" height="251.0" fill="#000000" stroke="#000" stroke-width="4.4" stroke-linejoin="round"/>
<rect x="1483.0" y="885.7" width="66.1" height="254.6" fill="#2E75B6" stroke="#000" stroke-width="4.4" stroke-linejoin="round"/>
<rect x="1570.1" y="1098.6" width="66.6" height="41.5" fill="#A9D18E" stroke="#000" stroke-width="4.4" stroke-linejoin="round"/>
<path d="M1334.5,888.2 H1347.5 M1341.0,888.2 V889.6 M1334.5,889.6 H1347.5" stroke="#646464" stroke-width="1.9" fill="none"/>
<path d="M1422.1,858.5 H1435.1 M1428.6,858.5 V920.1 M1422.1,920.1 H1435.1" stroke="#646464" stroke-width="1.9" fill="none"/>
<path d="M1509.4,813.6 H1522.4 M1515.9,813.6 V957.4 M1509.4,957.4 H1522.4" stroke="#646464" stroke-width="1.9" fill="none"/>
<path d="M1596.8,1097.3 H1609.8 M1603.3,1097.3 V1100.3 M1596.8,1100.3 H1609.8" stroke="#646464" stroke-width="1.9" fill="none"/>
<text transform="translate(1203.45,776.90) scale(0.9965,1)" font-size="41.5" font-weight="normal" fill="#000" >1.5</text>
<text transform="translate(1239.78,904.50) scale(0.6707,1)" font-size="41.5" font-weight="normal" fill="#000" >1</text>
<text transform="translate(1205.65,1030.50) scale(1.0179,1)" font-size="41.5" font-weight="normal" fill="#000" >0.5</text>
<text transform="translate(1242.97,1152.70) scale(1.0082,1)" font-size="41.5" font-weight="normal" fill="#000" >0</text>
<text transform="translate(1593.17,1089.34) scale(0.925,1)" font-size="44.8" font-weight="bold" style="font-family:'DejaVu Sans',sans-serif" fill="#000">*</text>
<line x1="1298.5" y1="1305.6" x2="1298.5" y2="1685.3" stroke="#8a8a8a" stroke-width="1.8"/>
<line x1="1285.0" y1="1305.6" x2="1301.5" y2="1305.6" stroke="#8a8a8a" stroke-width="1.8"/>
<line x1="1285.0" y1="1369.0" x2="1298.5" y2="1369.0" stroke="#8a8a8a" stroke-width="1.8"/>
<line x1="1285.0" y1="1432.5" x2="1298.5" y2="1432.5" stroke="#8a8a8a" stroke-width="1.8"/>
<line x1="1285.0" y1="1495.3" x2="1298.5" y2="1495.3" stroke="#8a8a8a" stroke-width="1.8"/>
<line x1="1285.0" y1="1558.9" x2="1298.5" y2="1558.9" stroke="#8a8a8a" stroke-width="1.8"/>
<line x1="1285.0" y1="1621.8" x2="1298.5" y2="1621.8" stroke="#8a8a8a" stroke-width="1.8"/>
<line x1="1285.0" y1="1685.3" x2="1652.0" y2="1685.3" stroke="#8a8a8a" stroke-width="1.8"/>
<rect x="1309.1" y="1409.0" width="66.6" height="276.3" fill="#ffffff" stroke="#000" stroke-width="4.4" stroke-linejoin="round"/>
<rect x="1397.4" y="1413.0" width="66.6" height="272.3" fill="#000000" stroke="#000" stroke-width="4.4" stroke-linejoin="round"/>
<rect x="1485.1" y="1469.8" width="67.0" height="215.5" fill="#2E75B6" stroke="#000" stroke-width="4.4" stroke-linejoin="round"/>
<rect x="1573.1" y="1573.2" width="66.8" height="112.1" fill="#A9D18E" stroke="#000" stroke-width="4.4" stroke-linejoin="round"/>
<path d="M1335.9,1362.3 H1348.9 M1342.4,1362.3 V1456.6 M1335.9,1456.6 H1348.9" stroke="#646464" stroke-width="1.9" fill="none"/>
<path d="M1424.4,1370.7 H1437.4 M1430.9,1370.7 V1456.0 M1424.4,1456.0 H1437.4" stroke="#646464" stroke-width="1.9" fill="none"/>
<path d="M1512.3,1409.6 H1525.3 M1518.8,1409.6 V1529.5 M1512.3,1529.5 H1525.3" stroke="#646464" stroke-width="1.9" fill="none"/>
<path d="M1600.0,1563.2 H1613.0 M1606.5,1563.2 V1583.0 M1600.0,1583.0 H1613.0" stroke="#646464" stroke-width="1.9" fill="none"/>
<text transform="translate(1220.41,1317.60) scale(1.0370,1)" font-size="41.5" font-weight="normal" fill="#000" >60</text>
<text transform="translate(1221.31,1383.20) scale(1.0168,1)" font-size="41.5" font-weight="normal" fill="#000" >50</text>
<text transform="translate(1221.03,1447.60) scale(1.0232,1)" font-size="41.5" font-weight="normal" fill="#000" >40</text>
<text transform="translate(1221.71,1510.20) scale(1.0079,1)" font-size="41.5" font-weight="normal" fill="#000" >30</text>
<text transform="translate(1220.84,1579.20) scale(1.0341,1)" font-size="41.5" font-weight="normal" fill="#000" >20</text>
<text transform="translate(1222.90,1639.40) scale(0.9812,1)" font-size="41.5" font-weight="normal" fill="#000" >10</text>
<text transform="translate(1244.27,1702.60) scale(1.0082,1)" font-size="41.5" font-weight="normal" fill="#000" >0</text>
<text transform="translate(1593.17,1543.40) scale(0.899,1)" font-size="46.1" font-weight="bold" style="font-family:'DejaVu Sans',sans-serif" fill="#000">*</text>
<text transform="translate(1097.40,554.36) rotate(-90) scale(0.9928,1)" font-size="40" font-weight="bold" fill="#000" >Bladder Capacity (µl)</text>
<text transform="translate(1109.30,1176.55) rotate(-90) scale(0.9768,1)" font-size="40.5" font-weight="bold" fill="#000" >Intercontraction Interval</text>
<text transform="translate(1157.60,1067.96) rotate(-90) scale(0.9741,1)" font-size="40.5" font-weight="bold" fill="#000" >(normalized)</text>
<text transform="translate(1133.20,1661.54) rotate(-90) scale(0.9882,1)" font-size="40" font-weight="bold" fill="#000" >Pressure (mmHg)</text>
</svg></body></html>
